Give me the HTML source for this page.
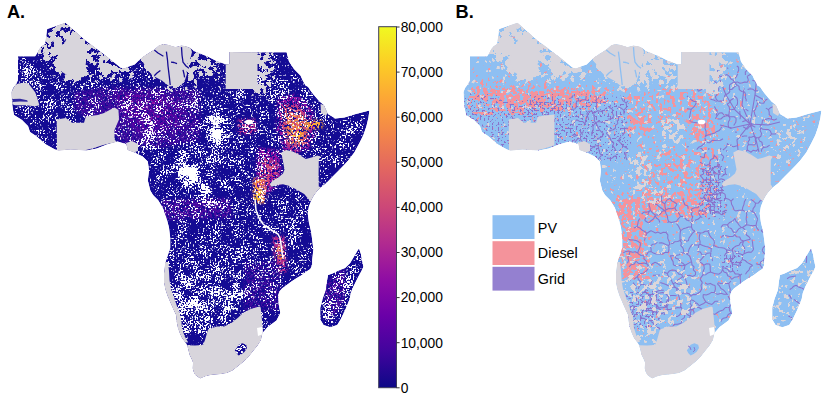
<!DOCTYPE html>
<html><head><meta charset="utf-8"><style>
html,body{margin:0;padding:0;background:#fff}
body{width:829px;height:397px;overflow:hidden;font-family:"Liberation Sans",sans-serif}
svg{display:block}
</style></head><body>
<svg width="829" height="397" viewBox="0 0 829 397">
<defs>
<linearGradient id="plasma" x1="0" y1="1" x2="0" y2="0">
<stop offset="0" stop-color="#0d0887"/><stop offset="0.1" stop-color="#41049d"/><stop offset="0.2" stop-color="#6a00a8"/>
<stop offset="0.3" stop-color="#8f0da4"/><stop offset="0.4" stop-color="#b12a90"/><stop offset="0.5" stop-color="#cc4778"/>
<stop offset="0.6" stop-color="#e16462"/><stop offset="0.7" stop-color="#f2844b"/><stop offset="0.8" stop-color="#fca636"/>
<stop offset="0.9" stop-color="#fcce25"/><stop offset="1" stop-color="#f0f921"/>
</linearGradient>

<clipPath id="land"><path d="M18,56.3 L35.1,56.3 L37.1,53.3 L39.1,49.2 L41.6,46.2 L44.7,44.2 L45.7,40.2 L46.7,32.1 L47.2,29 L65.5,22.7 L85,40 L105,55 L120.5,67.5 L124,68.6 L130,66 L134.6,64.5 L139.2,60 L143.7,56.2 L148.3,53.2 L154.3,49.4 L158.8,45.6 L163.4,44 L168,44.8 L172.5,46.3 L175.5,47.1 L178.5,46.3 L181.5,45.6 L186,46.3 L190.6,47.9 L193.9,51 L207.7,56.6 L216,60.8 L225.7,64.2 L229.2,64 L229.2,52 L286.6,52.3 L289,61.6 L294,69 L300.5,75.5 L302.5,80 L305.5,85.5 L308,86.8 L310.5,90.6 L312.7,93.6 L319.5,101.5 L324,105 L328,114 L335.4,118.5 L344.4,117.4 L355.8,114 L369.4,110.6 L368.4,118.1 L366.4,126.2 L363.3,135.3 L359.3,143.3 L354.3,152.4 L348.2,160.5 L345,164 L338.2,171.1 L332.2,177.1 L326.2,183.2 L321.1,187.2 L317.1,191.2 L314.1,195.3 L311.5,200 L308.9,206.4 L307.7,213.2 L308.9,222.3 L311.1,231.4 L312.3,240.5 L313.4,249.5 L312.2,260 L312.2,265 L310.3,268.9 L306.5,271.4 L301.5,275.2 L296.4,278.3 L291.4,281.4 L286.4,285.2 L282,288.4 L279.4,291.5 L278.2,295.3 L278.2,300.3 L278.8,305 L280.3,313 L276.5,320.6 L267.7,327 L262.5,333 L261,340 L257.5,345.7 L253,351.3 L248.5,357 L243.9,361.5 L238.3,366 L232.6,370.6 L227,372.9 L221.3,374 L216.7,374.6 L211,375.1 L205.4,376.3 L200.3,378.5 L198.6,377.4 L195.2,375.1 L193.5,371.7 L192.6,368.3 L193,362.7 L191.5,359 L189.5,355 L188.1,349.3 L187.1,345.2 L185.1,342.2 L182,338.2 L179.6,333 L177.6,327 L176.5,321 L176,315 L174.4,311.7 L170.5,303 L167.5,296 L165.5,290 L164,283 L164,273 L165.2,263 L167.7,255.4 L170.2,247.9 L170.2,237.8 L169,227.7 L166.4,217.6 L162.7,207.6 L158,200 L153,195 L150.3,190.5 L147.8,180.5 L149,170.4 L147.8,161.6 L142.7,156.5 L135,152.7 L127.6,150 L126.4,144 L117.5,141.4 L106.9,144.5 L96.8,148.5 L86.7,150.6 L70.6,149.5 L58.5,150.6 L55,149.5 L46,144.5 L36,136 L30,132 L28,126 L22,120 L14,115 L13,110 L12,103 L11.5,92 L13,88 L16,84 L18,80 Z M359,248.4 L360.9,254 L362.1,260.4 L363.4,266.7 L361.5,271 L358.3,276.7 L355.8,281.8 L353.3,286.8 L350.8,293.1 L349.7,299 L345.1,310.3 L340.6,319.4 L337.2,325 L330.4,327.3 L323.6,325 L320.2,319.4 L320.2,308 L322.5,299 L325.9,289.9 L327,280.8 L328.1,275 L332.5,273.6 L337.6,271 L345.1,268 L350.2,262.9 L354,256.6 L357.7,250.3 Z"/></clipPath>
<filter id="fW" filterUnits="userSpaceOnUse" x="0" y="0" width="400" height="397" color-interpolation-filters="sRGB">
<feGaussianBlur in="SourceGraphic" stdDeviation="3" result="d"/>
<feTurbulence type="fractalNoise" baseFrequency="0.09" numOctaves="2" seed="31" result="cn"/>
<feColorMatrix in="cn" type="matrix" values="1 0 0 0 0  1 0 0 0 0  1 0 0 0 0  0 0 0 0 1" result="cnr"/>
<feComposite in="d" in2="cnr" operator="arithmetic" k1="3.200" k2="-0.600" k3="0" k4="0" result="dc"/>
<feTurbulence type="fractalNoise" baseFrequency="0.6" numOctaves="1" seed="2" result="n"/>
<feColorMatrix in="n" type="matrix" values="1 0 0 0 0  1 0 0 0 0  1 0 0 0 0  0 0 0 0 1" result="nr"/>
<feComponentTransfer in="nr" result="nu"><feFuncR type="table" tableValues="0.1667 0.1667 0.1667 0.1673 0.1710 0.1815 0.2104 0.2623 0.3441 0.4468 0.5747 0.7211 0.8300 0.9034 0.9557 0.9850 0.9964 0.9994 0.9999 1.0000 1.0000"/></feComponentTransfer>
<feComposite in="dc" in2="nu" operator="arithmetic" k1="0" k2="1" k3="-1" k4="1" result="r"/>
<feColorMatrix in="r" type="matrix" values="0 0 0 0 1.000  0 0 0 0 1.000  0 0 0 0 1.000  6 0 0 0 -5"/>

</filter>
<filter id="fG" filterUnits="userSpaceOnUse" x="0" y="0" width="400" height="397" color-interpolation-filters="sRGB">
<feGaussianBlur in="SourceGraphic" stdDeviation="3" result="d"/>
<feTurbulence type="fractalNoise" baseFrequency="0.06" numOctaves="2" seed="31" result="cn"/>
<feColorMatrix in="cn" type="matrix" values="1 0 0 0 0  1 0 0 0 0  1 0 0 0 0  0 0 0 0 1" result="cnr"/>
<feComposite in="d" in2="cnr" operator="arithmetic" k1="1.600" k2="0.200" k3="0" k4="0" result="dc"/>
<feTurbulence type="fractalNoise" baseFrequency="0.18" numOctaves="3" seed="7" result="n"/>
<feColorMatrix in="n" type="matrix" values="1 0 0 0 0  1 0 0 0 0  1 0 0 0 0  0 0 0 0 1" result="nr"/>
<feComponentTransfer in="nr" result="nu"><feFuncR type="table" tableValues="0.0400 0.0400 0.0401 0.0408 0.0450 0.0571 0.0904 0.1502 0.2444 0.3628 0.5100 0.6787 0.8042 0.8887 0.9490 0.9827 0.9959 0.9993 0.9999 1.0000 1.0000"/></feComponentTransfer>
<feComposite in="dc" in2="nu" operator="arithmetic" k1="0" k2="1" k3="-1" k4="1" result="r"/>
<feColorMatrix in="r" type="matrix" values="0 0 0 0 0.847  0 0 0 0 0.835  0 0 0 0 0.863  25 0 0 0 -24"/>

</filter>
<filter id="fGB" filterUnits="userSpaceOnUse" x="0" y="0" width="400" height="397" color-interpolation-filters="sRGB">
<feGaussianBlur in="SourceGraphic" stdDeviation="3" result="d"/>

<feTurbulence type="fractalNoise" baseFrequency="0.2" numOctaves="3" seed="2" result="n"/>
<feColorMatrix in="n" type="matrix" values="1 0 0 0 0  1 0 0 0 0  1 0 0 0 0  0 0 0 0 1" result="nr"/>
<feComponentTransfer in="nr" result="nu"><feFuncR type="table" tableValues="0.0400 0.0400 0.0401 0.0408 0.0450 0.0571 0.0904 0.1502 0.2444 0.3628 0.5100 0.6787 0.8042 0.8887 0.9490 0.9827 0.9959 0.9993 0.9999 1.0000 1.0000"/></feComponentTransfer>
<feComposite in="d" in2="nu" operator="arithmetic" k1="0" k2="1" k3="-1" k4="1" result="r"/>
<feColorMatrix in="r" type="matrix" values="0 0 0 0 0.863  0 0 0 0 0.839  0 0 0 0 0.855  25 0 0 0 -24"/>

</filter>
<filter id="fP" filterUnits="userSpaceOnUse" x="0" y="0" width="400" height="397" color-interpolation-filters="sRGB">
<feGaussianBlur in="SourceGraphic" stdDeviation="3" result="d"/>

<feTurbulence type="fractalNoise" baseFrequency="0.25" numOctaves="3" seed="13" result="n"/>
<feColorMatrix in="n" type="matrix" values="1 0 0 0 0  1 0 0 0 0  1 0 0 0 0  0 0 0 0 1" result="nr"/>
<feComponentTransfer in="nr" result="nu"><feFuncR type="table" tableValues="0.0400 0.0400 0.0401 0.0408 0.0450 0.0571 0.0904 0.1502 0.2444 0.3628 0.5100 0.6787 0.8042 0.8887 0.9490 0.9827 0.9959 0.9993 0.9999 1.0000 1.0000"/></feComponentTransfer>
<feComposite in="d" in2="nu" operator="arithmetic" k1="0" k2="1" k3="-1" k4="1" result="r"/>
<feColorMatrix in="r" type="matrix" values="0 0 0 0 0.957  0 0 0 0 0.576  0 0 0 0 0.608  25 0 0 0 -24"/>

</filter>
<filter id="fU" filterUnits="userSpaceOnUse" x="0" y="0" width="400" height="397" color-interpolation-filters="sRGB">
<feGaussianBlur in="SourceGraphic" stdDeviation="3" result="d"/>

<feTurbulence type="fractalNoise" baseFrequency="0.5" numOctaves="3" seed="17" result="n"/>
<feColorMatrix in="n" type="matrix" values="1 0 0 0 0  1 0 0 0 0  1 0 0 0 0  0 0 0 0 1" result="nr"/>
<feComponentTransfer in="nr" result="nu"><feFuncR type="table" tableValues="0.0400 0.0400 0.0401 0.0408 0.0450 0.0571 0.0904 0.1502 0.2444 0.3628 0.5100 0.6787 0.8042 0.8887 0.9490 0.9827 0.9959 0.9993 0.9999 1.0000 1.0000"/></feComponentTransfer>
<feComposite in="d" in2="nu" operator="arithmetic" k1="0" k2="1" k3="-1" k4="1" result="r"/>
<feColorMatrix in="r" type="matrix" values="0 0 0 0 0.541  0 0 0 0 0.447  0 0 0 0 0.800  25 0 0 0 -24"/>

</filter>
<filter id="fV" filterUnits="userSpaceOnUse" x="0" y="0" width="400" height="397" color-interpolation-filters="sRGB">
<feGaussianBlur in="SourceGraphic" stdDeviation="4" result="m"/>
<feTurbulence type="turbulence" baseFrequency="0.038" numOctaves="1" seed="3" result="n"/>
<feColorMatrix in="n" type="matrix" values="0 0 0 0 0.55  0 0 0 0 0.45  0 0 0 0 0.8  -90 0 0 0 1.6" result="v"/>
<feComposite in="v" in2="m" operator="in"/>
</filter>
<filter id="hot12" filterUnits="userSpaceOnUse" x="0" y="0" width="400" height="397" color-interpolation-filters="sRGB">
<feGaussianBlur in="SourceGraphic" stdDeviation="1.5" result="b"/>
<feTurbulence type="fractalNoise" baseFrequency="0.4" numOctaves="2" seed="21" result="n"/>
<feColorMatrix in="n" type="matrix" values="1 0 0 0 0  1 0 0 0 0  1 0 0 0 0  0 0 0 0 1" result="nr"/>
<feComponentTransfer in="nr" result="nu"><feFuncR type="table" tableValues="0.0000 0.0000 0.0001 0.0008 0.0052 0.0178 0.0525 0.1148 0.2129 0.3362 0.4896 0.6653 0.7960 0.8841 0.9469 0.9820 0.9957 0.9993 0.9999 1.0000 1.0000"/></feComponentTransfer>
<feColorMatrix in="nu" type="matrix" values="0 0 0 0 0  0 0 0 0 0  0 0 0 0 0  -25 0 0 0 3.50" result="m"/>
<feComposite in="b" in2="m" operator="in"/>
</filter>
<filter id="hot25" filterUnits="userSpaceOnUse" x="0" y="0" width="400" height="397" color-interpolation-filters="sRGB">
<feGaussianBlur in="SourceGraphic" stdDeviation="1.5" result="b"/>
<feTurbulence type="fractalNoise" baseFrequency="0.4" numOctaves="2" seed="22" result="n"/>
<feColorMatrix in="n" type="matrix" values="1 0 0 0 0  1 0 0 0 0  1 0 0 0 0  0 0 0 0 1" result="nr"/>
<feComponentTransfer in="nr" result="nu"><feFuncR type="table" tableValues="0.0000 0.0000 0.0001 0.0008 0.0052 0.0178 0.0525 0.1148 0.2129 0.3362 0.4896 0.6653 0.7960 0.8841 0.9469 0.9820 0.9957 0.9993 0.9999 1.0000 1.0000"/></feComponentTransfer>
<feColorMatrix in="nu" type="matrix" values="0 0 0 0 0  0 0 0 0 0  0 0 0 0 0  -25 0 0 0 6.75" result="m"/>
<feComposite in="b" in2="m" operator="in"/>
</filter>
<filter id="hot30" filterUnits="userSpaceOnUse" x="0" y="0" width="400" height="397" color-interpolation-filters="sRGB">
<feGaussianBlur in="SourceGraphic" stdDeviation="1.5" result="b"/>
<feTurbulence type="fractalNoise" baseFrequency="0.4" numOctaves="2" seed="23" result="n"/>
<feColorMatrix in="n" type="matrix" values="1 0 0 0 0  1 0 0 0 0  1 0 0 0 0  0 0 0 0 1" result="nr"/>
<feComponentTransfer in="nr" result="nu"><feFuncR type="table" tableValues="0.0000 0.0000 0.0001 0.0008 0.0052 0.0178 0.0525 0.1148 0.2129 0.3362 0.4896 0.6653 0.7960 0.8841 0.9469 0.9820 0.9957 0.9993 0.9999 1.0000 1.0000"/></feComponentTransfer>
<feColorMatrix in="nu" type="matrix" values="0 0 0 0 0  0 0 0 0 0  0 0 0 0 0  -25 0 0 0 8.00" result="m"/>
<feComposite in="b" in2="m" operator="in"/>
</filter>
<filter id="hot35" filterUnits="userSpaceOnUse" x="0" y="0" width="400" height="397" color-interpolation-filters="sRGB">
<feGaussianBlur in="SourceGraphic" stdDeviation="1.5" result="b"/>
<feTurbulence type="fractalNoise" baseFrequency="0.4" numOctaves="2" seed="24" result="n"/>
<feColorMatrix in="n" type="matrix" values="1 0 0 0 0  1 0 0 0 0  1 0 0 0 0  0 0 0 0 1" result="nr"/>
<feComponentTransfer in="nr" result="nu"><feFuncR type="table" tableValues="0.0000 0.0000 0.0001 0.0008 0.0052 0.0178 0.0525 0.1148 0.2129 0.3362 0.4896 0.6653 0.7960 0.8841 0.9469 0.9820 0.9957 0.9993 0.9999 1.0000 1.0000"/></feComponentTransfer>
<feColorMatrix in="nu" type="matrix" values="0 0 0 0 0  0 0 0 0 0  0 0 0 0 0  -25 0 0 0 9.25" result="m"/>
<feComposite in="b" in2="m" operator="in"/>
</filter>
<filter id="hot40" filterUnits="userSpaceOnUse" x="0" y="0" width="400" height="397" color-interpolation-filters="sRGB">
<feGaussianBlur in="SourceGraphic" stdDeviation="1.5" result="b"/>
<feTurbulence type="fractalNoise" baseFrequency="0.4" numOctaves="2" seed="25" result="n"/>
<feColorMatrix in="n" type="matrix" values="1 0 0 0 0  1 0 0 0 0  1 0 0 0 0  0 0 0 0 1" result="nr"/>
<feComponentTransfer in="nr" result="nu"><feFuncR type="table" tableValues="0.0000 0.0000 0.0001 0.0008 0.0052 0.0178 0.0525 0.1148 0.2129 0.3362 0.4896 0.6653 0.7960 0.8841 0.9469 0.9820 0.9957 0.9993 0.9999 1.0000 1.0000"/></feComponentTransfer>
<feColorMatrix in="nu" type="matrix" values="0 0 0 0 0  0 0 0 0 0  0 0 0 0 0  -25 0 0 0 10.50" result="m"/>
<feComposite in="b" in2="m" operator="in"/>
</filter>
<filter id="hot45" filterUnits="userSpaceOnUse" x="0" y="0" width="400" height="397" color-interpolation-filters="sRGB">
<feGaussianBlur in="SourceGraphic" stdDeviation="1.5" result="b"/>
<feTurbulence type="fractalNoise" baseFrequency="0.4" numOctaves="2" seed="26" result="n"/>
<feColorMatrix in="n" type="matrix" values="1 0 0 0 0  1 0 0 0 0  1 0 0 0 0  0 0 0 0 1" result="nr"/>
<feComponentTransfer in="nr" result="nu"><feFuncR type="table" tableValues="0.0000 0.0000 0.0001 0.0008 0.0052 0.0178 0.0525 0.1148 0.2129 0.3362 0.4896 0.6653 0.7960 0.8841 0.9469 0.9820 0.9957 0.9993 0.9999 1.0000 1.0000"/></feComponentTransfer>
<feColorMatrix in="nu" type="matrix" values="0 0 0 0 0  0 0 0 0 0  0 0 0 0 0  -25 0 0 0 11.75" result="m"/>
<feComposite in="b" in2="m" operator="in"/>
</filter>
<filter id="hot50" filterUnits="userSpaceOnUse" x="0" y="0" width="400" height="397" color-interpolation-filters="sRGB">
<feGaussianBlur in="SourceGraphic" stdDeviation="1.5" result="b"/>
<feTurbulence type="fractalNoise" baseFrequency="0.4" numOctaves="2" seed="27" result="n"/>
<feColorMatrix in="n" type="matrix" values="1 0 0 0 0  1 0 0 0 0  1 0 0 0 0  0 0 0 0 1" result="nr"/>
<feComponentTransfer in="nr" result="nu"><feFuncR type="table" tableValues="0.0000 0.0000 0.0001 0.0008 0.0052 0.0178 0.0525 0.1148 0.2129 0.3362 0.4896 0.6653 0.7960 0.8841 0.9469 0.9820 0.9957 0.9993 0.9999 1.0000 1.0000"/></feComponentTransfer>
<feColorMatrix in="nu" type="matrix" values="0 0 0 0 0  0 0 0 0 0  0 0 0 0 0  -25 0 0 0 13.00" result="m"/>
<feComposite in="b" in2="m" operator="in"/>
</filter>
<filter id="hot55" filterUnits="userSpaceOnUse" x="0" y="0" width="400" height="397" color-interpolation-filters="sRGB">
<feGaussianBlur in="SourceGraphic" stdDeviation="1.5" result="b"/>
<feTurbulence type="fractalNoise" baseFrequency="0.4" numOctaves="2" seed="28" result="n"/>
<feColorMatrix in="n" type="matrix" values="1 0 0 0 0  1 0 0 0 0  1 0 0 0 0  0 0 0 0 1" result="nr"/>
<feComponentTransfer in="nr" result="nu"><feFuncR type="table" tableValues="0.0000 0.0000 0.0001 0.0008 0.0052 0.0178 0.0525 0.1148 0.2129 0.3362 0.4896 0.6653 0.7960 0.8841 0.9469 0.9820 0.9957 0.9993 0.9999 1.0000 1.0000"/></feComponentTransfer>
<feColorMatrix in="nu" type="matrix" values="0 0 0 0 0  0 0 0 0 0  0 0 0 0 0  -25 0 0 0 14.25" result="m"/>
<feComposite in="b" in2="m" operator="in"/>
</filter>
<filter id="hot60" filterUnits="userSpaceOnUse" x="0" y="0" width="400" height="397" color-interpolation-filters="sRGB">
<feGaussianBlur in="SourceGraphic" stdDeviation="1.5" result="b"/>
<feTurbulence type="fractalNoise" baseFrequency="0.4" numOctaves="2" seed="29" result="n"/>
<feColorMatrix in="n" type="matrix" values="1 0 0 0 0  1 0 0 0 0  1 0 0 0 0  0 0 0 0 1" result="nr"/>
<feComponentTransfer in="nr" result="nu"><feFuncR type="table" tableValues="0.0000 0.0000 0.0001 0.0008 0.0052 0.0178 0.0525 0.1148 0.2129 0.3362 0.4896 0.6653 0.7960 0.8841 0.9469 0.9820 0.9957 0.9993 0.9999 1.0000 1.0000"/></feComponentTransfer>
<feColorMatrix in="nu" type="matrix" values="0 0 0 0 0  0 0 0 0 0  0 0 0 0 0  -25 0 0 0 15.50" result="m"/>
<feComposite in="b" in2="m" operator="in"/>
</filter>
<filter id="hot70" filterUnits="userSpaceOnUse" x="0" y="0" width="400" height="397" color-interpolation-filters="sRGB">
<feGaussianBlur in="SourceGraphic" stdDeviation="1.5" result="b"/>
<feTurbulence type="fractalNoise" baseFrequency="0.4" numOctaves="2" seed="30" result="n"/>
<feColorMatrix in="n" type="matrix" values="1 0 0 0 0  1 0 0 0 0  1 0 0 0 0  0 0 0 0 1" result="nr"/>
<feComponentTransfer in="nr" result="nu"><feFuncR type="table" tableValues="0.0000 0.0000 0.0001 0.0008 0.0052 0.0178 0.0525 0.1148 0.2129 0.3362 0.4896 0.6653 0.7960 0.8841 0.9469 0.9820 0.9957 0.9993 0.9999 1.0000 1.0000"/></feComponentTransfer>
<feColorMatrix in="nu" type="matrix" values="0 0 0 0 0  0 0 0 0 0  0 0 0 0 0  -25 0 0 0 18.00" result="m"/>
<feComposite in="b" in2="m" operator="in"/>
</filter>
<filter id="hot75" filterUnits="userSpaceOnUse" x="0" y="0" width="400" height="397" color-interpolation-filters="sRGB">
<feGaussianBlur in="SourceGraphic" stdDeviation="1.5" result="b"/>
<feTurbulence type="fractalNoise" baseFrequency="0.4" numOctaves="2" seed="31" result="n"/>
<feColorMatrix in="n" type="matrix" values="1 0 0 0 0  1 0 0 0 0  1 0 0 0 0  0 0 0 0 1" result="nr"/>
<feComponentTransfer in="nr" result="nu"><feFuncR type="table" tableValues="0.0000 0.0000 0.0001 0.0008 0.0052 0.0178 0.0525 0.1148 0.2129 0.3362 0.4896 0.6653 0.7960 0.8841 0.9469 0.9820 0.9957 0.9993 0.9999 1.0000 1.0000"/></feComponentTransfer>
<feColorMatrix in="nu" type="matrix" values="0 0 0 0 0  0 0 0 0 0  0 0 0 0 0  -25 0 0 0 19.25" result="m"/>
<feComposite in="b" in2="m" operator="in"/>
</filter>
<g id="dW"><rect x="-20" y="0" width="440" height="397" fill="#000"/>
<path d="M18,56.3 L35.1,56.3 L37.1,53.3 L39.1,49.2 L41.6,46.2 L44.7,44.2 L45.7,40.2 L46.7,32.1 L47.2,29 L65.5,22.7 L85,40 L105,55 L120.5,67.5 L124,68.6 L130,66 L134.6,64.5 L139.2,60 L143.7,56.2 L148.3,53.2 L154.3,49.4 L158.8,45.6 L163.4,44 L168,44.8 L172.5,46.3 L175.5,47.1 L178.5,46.3 L181.5,45.6 L186,46.3 L190.6,47.9 L193.9,51 L207.7,56.6 L216,60.8 L225.7,64.2 L229.2,64 L229.2,52 L286.6,52.3 L289,61.6 L294,69 L300.5,75.5 L302.5,80 L305.5,85.5 L308,86.8 L310.5,90.6 L312.7,93.6 L319.5,101.5 L324,105 L328,114 L335.4,118.5 L344.4,117.4 L355.8,114 L369.4,110.6 L368.4,118.1 L366.4,126.2 L363.3,135.3 L359.3,143.3 L354.3,152.4 L348.2,160.5 L345,164 L338.2,171.1 L332.2,177.1 L326.2,183.2 L321.1,187.2 L317.1,191.2 L314.1,195.3 L311.5,200 L308.9,206.4 L307.7,213.2 L308.9,222.3 L311.1,231.4 L312.3,240.5 L313.4,249.5 L312.2,260 L312.2,265 L310.3,268.9 L306.5,271.4 L301.5,275.2 L296.4,278.3 L291.4,281.4 L286.4,285.2 L282,288.4 L279.4,291.5 L278.2,295.3 L278.2,300.3 L278.8,305 L280.3,313 L276.5,320.6 L267.7,327 L262.5,333 L261,340 L257.5,345.7 L253,351.3 L248.5,357 L243.9,361.5 L238.3,366 L232.6,370.6 L227,372.9 L221.3,374 L216.7,374.6 L211,375.1 L205.4,376.3 L200.3,378.5 L198.6,377.4 L195.2,375.1 L193.5,371.7 L192.6,368.3 L193,362.7 L191.5,359 L189.5,355 L188.1,349.3 L187.1,345.2 L185.1,342.2 L182,338.2 L179.6,333 L177.6,327 L176.5,321 L176,315 L174.4,311.7 L170.5,303 L167.5,296 L165.5,290 L164,283 L164,273 L165.2,263 L167.7,255.4 L170.2,247.9 L170.2,237.8 L169,227.7 L166.4,217.6 L162.7,207.6 L158,200 L153,195 L150.3,190.5 L147.8,180.5 L149,170.4 L147.8,161.6 L142.7,156.5 L135,152.7 L127.6,150 L126.4,144 L117.5,141.4 L106.9,144.5 L96.8,148.5 L86.7,150.6 L70.6,149.5 L58.5,150.6 L55,149.5 L46,144.5 L36,136 L30,132 L28,126 L22,120 L14,115 L13,110 L12,103 L11.5,92 L13,88 L16,84 L18,80 Z" fill="rgb(60,60,60)"/>
<path d="M33,57 L40,50 L43,45 L46,35 L47,29 L65.5,23 L85,40 L105,55 L120.5,67.5 L124,68.6 L131,67 L133,73 L125,78 L110,76 L96,78 L84,76 L70,75 L55,73 L40,70 L33,66 Z" fill="rgb(34,34,34)"/>
<path d="M139,60 L148.3,53.2 L154.3,49.4 L158.8,45.6 L163.4,44 L175.5,47 L186,46.3 L190.6,47.9 L198,51.6 L200,77 L190.6,80.4 L181.5,85 L169.4,86.4 L161.9,80.4 L152.8,75.8 L145,68 Z" fill="rgb(34,34,34)"/>
<path d="M186,46 L193.9,51 L207.7,56.6 L216,60.8 L225.7,64.2 L225.7,88 L188,88 L186,80 Z" fill="rgb(34,34,34)"/>
<path d="M359,248.4 L360.9,254 L362.1,260.4 L363.4,266.7 L361.5,271 L358.3,276.7 L355.8,281.8 L353.3,286.8 L350.8,293.1 L349.7,299 L345.1,310.3 L340.6,319.4 L337.2,325 L330.4,327.3 L323.6,325 L320.2,319.4 L320.2,308 L322.5,299 L325.9,289.9 L327,280.8 L328.1,275 L332.5,273.6 L337.6,271 L345.1,268 L350.2,262.9 L354,256.6 L357.7,250.3 Z" fill="rgb(83,83,83)"/>
<path d="M17,68 L40,69 L42,74 L17,74 Z" fill="rgb(139,139,139)"/>
<path d="M257,52.5 L270,52.5 L272,110 L260,100 Z" fill="rgb(58,58,58)"/>
<path d="M270,52.5 L286.6,52.3 L289,61.6 L294,69 L290,95 L270,95 Z" fill="rgb(54,54,54)"/>
<path d="M266,80 L286,88 L284,118 L272,120 L266,100 Z" fill="rgb(69,69,69)"/>
<path d="M140,107 L156,110 L160,135 L150,153 L142,150 Z" fill="rgb(99,99,99)"/>
<path d="M205,114 L222,112 L230,122 L228,148 L212,148 L206,130 Z" fill="rgb(129,129,129)"/>
<path d="M212,118 L222,116 L226,126 L224,144 L214,142 Z" fill="rgb(176,176,176)"/>
<path d="M176,155 L192,152 L200,165 L199,189 L186,190 L176,175 Z" fill="rgb(129,129,129)"/>
<path d="M180,160 L191,157 L197,168 L196,186 L186,187 L181,174 Z" fill="rgb(169,169,169)"/>
<path d="M194,185 L206,184 L214,192 L212,204 L198,203 Z" fill="rgb(129,129,129)"/>
<path d="M200,140 L215,145 L218,175 L205,180 Z" fill="rgb(89,89,89)"/>
<path d="M165,250 L250,245 L260,262 L250,280 L165,280 Z" fill="rgb(71,71,71)"/>
<path d="M172,274 L238,276 L246,292 L240,312 L222,326 L200,340 L182,340 L172,300 Z" fill="rgb(105,105,105)"/>
<path d="M322,112 L372,108 L345,165 L320,187 L318,150 Z" fill="rgb(52,52,52)"/>
<path d="M336,127 L352,130 L350,148 L337,149 Z" fill="rgb(109,109,109)"/>
<path d="M270,320 L280,313 L279,303 L262,300 L250,310 L262,332 Z" fill="rgb(62,62,62)"/>
<path d="M290,205 L308,205 L310,240 L290,240 Z" fill="rgb(83,83,83)"/>
</g>
<g id="dG"><rect x="-20" y="0" width="440" height="397" fill="#000"/>
<path d="M38,52 L40,50 L43,45 L46,35 L47,29 L65.5,23 L85,40 L105,55 L120.5,67.5 L124,68.6 L131,67 L133,73 L125,78 L110,78 L96,79 L84,79 L70,79 L60,76 L50,66 L42,60 Z" fill="rgb(173,173,173)"/>
<path d="M54,45 L66,28 L86,42 L86,62 L85,79 L70,79 L60,72 L56,58 Z" fill="rgb(247,247,247)"/>
<path d="M84,63 L96,63 L98,72 L95,78 L86,78 Z" fill="rgb(31,31,31)"/>
<path d="M139,60 L148.3,53.2 L154.3,49.4 L158.8,45.6 L163.4,44 L175.5,47 L186,46.3 L190.6,47.9 L198,51.6 L200,77 L190.6,80.4 L181.5,85 L169.4,86.4 L161.9,80.4 L152.8,75.8 L145,68 Z" fill="rgb(255,255,255)"/>
<path d="M186,46 L193.9,51 L207.7,56.6 L216,60.8 L225.7,64.2 L225.7,88 L188,88 L186,80 Z" fill="rgb(153,153,153)"/>
<path d="M216,61 L225.7,64.2 L225.7,87 L216,87 Z" fill="rgb(0,0,0)"/>
<path d="M256,52 L274,52 L272,70 L265,94 L256,94 Z" fill="rgb(191,191,191)"/>
<path d="M193,76 L205,72 L211,79 L216,84 L216,88 L193,88 Z" fill="rgb(8,8,8)"/>
<polyline points="166.7,50 166,62 167,72 167.5,88" fill="none" stroke="#000" stroke-width="1.6"/><polyline points="152,80 158,74 163,70" fill="none" stroke="#000" stroke-width="1.6"/><polyline points="181,47 182,58 183,70 185,84" fill="none" stroke="#000" stroke-width="1.6"/><polyline points="171,62 175,60 179,62" fill="none" stroke="#000" stroke-width="1.6"/><polyline points="154,50 160,56 165,58" fill="none" stroke="#000" stroke-width="1.6"/><polyline points="186,55 190,62 196,64" fill="none" stroke="#000" stroke-width="1.6"/></g>
<g id="dGB"><rect x="-20" y="0" width="440" height="397" fill="#000"/>
<path d="M38,52 L40,50 L43,45 L46,35 L47,29 L65.5,23 L85,40 L105,55 L120.5,67.5 L124,68.6 L131,67 L133,73 L125,78 L110,78 L96,79 L84,79 L70,79 L60,76 L50,66 L42,60 Z" fill="rgb(225,225,225)"/>
<path d="M54,45 L66,28 L86,42 L86,62 L85,79 L70,79 L60,72 L56,58 Z" fill="rgb(252,252,252)"/>
<path d="M84,63 L96,63 L98,72 L95,78 L86,78 Z" fill="rgb(31,31,31)"/>
<path d="M139,60 L148.3,53.2 L154.3,49.4 L158.8,45.6 L163.4,44 L175.5,47 L186,46.3 L190.6,47.9 L198,51.6 L200,77 L190.6,80.4 L181.5,85 L169.4,86.4 L161.9,80.4 L152.8,75.8 L145,68 Z" fill="rgb(252,252,252)"/>
<path d="M186,46 L193.9,51 L207.7,56.6 L216,60.8 L225.7,64.2 L225.7,88 L188,88 L186,80 Z" fill="rgb(199,199,199)"/>
<path d="M216,61 L225.7,64.2 L225.7,87 L216,87 Z" fill="rgb(0,0,0)"/>
<path d="M256,52 L274,52 L272,70 L265,94 L256,94 Z" fill="rgb(249,249,249)"/>
<path d="M193,76 L205,72 L211,79 L216,84 L216,88 L193,88 Z" fill="rgb(8,8,8)"/>
<polyline points="166.7,50 166,62 167,72 167.5,88" fill="none" stroke="#000" stroke-width="1.6"/><polyline points="152,80 158,74 163,70" fill="none" stroke="#000" stroke-width="1.6"/><polyline points="181,47 182,58 183,70 185,84" fill="none" stroke="#000" stroke-width="1.6"/><polyline points="171,62 175,60 179,62" fill="none" stroke="#000" stroke-width="1.6"/><polyline points="154,50 160,56 165,58" fill="none" stroke="#000" stroke-width="1.6"/><polyline points="186,55 190,62 196,64" fill="none" stroke="#000" stroke-width="1.6"/></g>
<g id="dWB"><rect x="-20" y="0" width="440" height="397" fill="#000"/>
<path d="M18,56.3 L35.1,56.3 L37.1,53.3 L39.1,49.2 L41.6,46.2 L44.7,44.2 L45.7,40.2 L46.7,32.1 L47.2,29 L65.5,22.7 L85,40 L105,55 L120.5,67.5 L124,68.6 L130,66 L134.6,64.5 L139.2,60 L143.7,56.2 L148.3,53.2 L154.3,49.4 L158.8,45.6 L163.4,44 L168,44.8 L172.5,46.3 L175.5,47.1 L178.5,46.3 L181.5,45.6 L186,46.3 L190.6,47.9 L193.9,51 L207.7,56.6 L216,60.8 L225.7,64.2 L229.2,64 L229.2,52 L286.6,52.3 L289,61.6 L294,69 L300.5,75.5 L302.5,80 L305.5,85.5 L308,86.8 L310.5,90.6 L312.7,93.6 L319.5,101.5 L324,105 L328,114 L335.4,118.5 L344.4,117.4 L355.8,114 L369.4,110.6 L368.4,118.1 L366.4,126.2 L363.3,135.3 L359.3,143.3 L354.3,152.4 L348.2,160.5 L345,164 L338.2,171.1 L332.2,177.1 L326.2,183.2 L321.1,187.2 L317.1,191.2 L314.1,195.3 L311.5,200 L308.9,206.4 L307.7,213.2 L308.9,222.3 L311.1,231.4 L312.3,240.5 L313.4,249.5 L312.2,260 L312.2,265 L310.3,268.9 L306.5,271.4 L301.5,275.2 L296.4,278.3 L291.4,281.4 L286.4,285.2 L282,288.4 L279.4,291.5 L278.2,295.3 L278.2,300.3 L278.8,305 L280.3,313 L276.5,320.6 L267.7,327 L262.5,333 L261,340 L257.5,345.7 L253,351.3 L248.5,357 L243.9,361.5 L238.3,366 L232.6,370.6 L227,372.9 L221.3,374 L216.7,374.6 L211,375.1 L205.4,376.3 L200.3,378.5 L198.6,377.4 L195.2,375.1 L193.5,371.7 L192.6,368.3 L193,362.7 L191.5,359 L189.5,355 L188.1,349.3 L187.1,345.2 L185.1,342.2 L182,338.2 L179.6,333 L177.6,327 L176.5,321 L176,315 L174.4,311.7 L170.5,303 L167.5,296 L165.5,290 L164,283 L164,273 L165.2,263 L167.7,255.4 L170.2,247.9 L170.2,237.8 L169,227.7 L166.4,217.6 L162.7,207.6 L158,200 L153,195 L150.3,190.5 L147.8,180.5 L149,170.4 L147.8,161.6 L142.7,156.5 L135,152.7 L127.6,150 L126.4,144 L117.5,141.4 L106.9,144.5 L96.8,148.5 L86.7,150.6 L70.6,149.5 L58.5,150.6 L55,149.5 L46,144.5 L36,136 L30,132 L28,126 L22,120 L14,115 L13,110 L12,103 L11.5,92 L13,88 L16,84 L18,80 Z" fill="rgb(18,18,18)"/>
<path d="M359,248.4 L360.9,254 L362.1,260.4 L363.4,266.7 L361.5,271 L358.3,276.7 L355.8,281.8 L353.3,286.8 L350.8,293.1 L349.7,299 L345.1,310.3 L340.6,319.4 L337.2,325 L330.4,327.3 L323.6,325 L320.2,319.4 L320.2,308 L322.5,299 L325.9,289.9 L327,280.8 L328.1,275 L332.5,273.6 L337.6,271 L345.1,268 L350.2,262.9 L354,256.6 L357.7,250.3 Z" fill="rgb(51,51,51)"/>
<path d="M188,46 L204,55.3 L208,59 L218,62.9 L225.6,65.4 L225,88 L188,88 Z" fill="rgb(89,89,89)"/>
<path d="M257,52.5 L286.6,52.3 L289,61.6 L294,69 L286,88 L257,88 Z" fill="rgb(26,26,26)"/>
<path d="M266,80 L286,88 L285,118 L272,120 L266,100 Z" fill="rgb(20,20,20)"/>
<path d="M209,116 L222,113 L232,125 L230,144 L214,144 Z" fill="rgb(115,115,115)"/>
<path d="M176,155 L192,152 L200,165 L199,189 L186,190 L176,175 Z" fill="rgb(102,102,102)"/>
<path d="M194,185 L206,184 L214,192 L212,204 L198,203 Z" fill="rgb(89,89,89)"/>
<path d="M165,250 L250,245 L260,262 L250,280 L165,280 Z" fill="rgb(31,31,31)"/>
<path d="M172,274 L238,276 L246,292 L240,312 L222,326 L200,340 L182,340 L172,300 Z" fill="rgb(76,76,76)"/>
<path d="M326,125 L352,130 L350,150 L328,152 L322,140 Z" fill="rgb(64,64,64)"/>
<path d="M318,150 L345,150 L338,172 L320,185 Z" fill="rgb(38,38,38)"/>
</g>
<g id="dP"><rect x="-20" y="0" width="440" height="397" fill="#000"/>
<path d="M18,56.3 L35.1,56.3 L37.1,53.3 L39.1,49.2 L41.6,46.2 L44.7,44.2 L45.7,40.2 L46.7,32.1 L47.2,29 L65.5,22.7 L85,40 L105,55 L120.5,67.5 L124,68.6 L130,66 L134.6,64.5 L139.2,60 L143.7,56.2 L148.3,53.2 L154.3,49.4 L158.8,45.6 L163.4,44 L168,44.8 L172.5,46.3 L175.5,47.1 L178.5,46.3 L181.5,45.6 L186,46.3 L190.6,47.9 L193.9,51 L207.7,56.6 L216,60.8 L225.7,64.2 L229.2,64 L229.2,52 L286.6,52.3 L289,61.6 L294,69 L300.5,75.5 L302.5,80 L305.5,85.5 L308,86.8 L310.5,90.6 L312.7,93.6 L319.5,101.5 L324,105 L328,114 L335.4,118.5 L344.4,117.4 L355.8,114 L369.4,110.6 L368.4,118.1 L366.4,126.2 L363.3,135.3 L359.3,143.3 L354.3,152.4 L348.2,160.5 L345,164 L338.2,171.1 L332.2,177.1 L326.2,183.2 L321.1,187.2 L317.1,191.2 L314.1,195.3 L311.5,200 L308.9,206.4 L307.7,213.2 L308.9,222.3 L311.1,231.4 L312.3,240.5 L313.4,249.5 L312.2,260 L312.2,265 L310.3,268.9 L306.5,271.4 L301.5,275.2 L296.4,278.3 L291.4,281.4 L286.4,285.2 L282,288.4 L279.4,291.5 L278.2,295.3 L278.2,300.3 L278.8,305 L280.3,313 L276.5,320.6 L267.7,327 L262.5,333 L261,340 L257.5,345.7 L253,351.3 L248.5,357 L243.9,361.5 L238.3,366 L232.6,370.6 L227,372.9 L221.3,374 L216.7,374.6 L211,375.1 L205.4,376.3 L200.3,378.5 L198.6,377.4 L195.2,375.1 L193.5,371.7 L192.6,368.3 L193,362.7 L191.5,359 L189.5,355 L188.1,349.3 L187.1,345.2 L185.1,342.2 L182,338.2 L179.6,333 L177.6,327 L176.5,321 L176,315 L174.4,311.7 L170.5,303 L167.5,296 L165.5,290 L164,283 L164,273 L165.2,263 L167.7,255.4 L170.2,247.9 L170.2,237.8 L169,227.7 L166.4,217.6 L162.7,207.6 L158,200 L153,195 L150.3,190.5 L147.8,180.5 L149,170.4 L147.8,161.6 L142.7,156.5 L135,152.7 L127.6,150 L126.4,144 L117.5,141.4 L106.9,144.5 L96.8,148.5 L86.7,150.6 L70.6,149.5 L58.5,150.6 L55,149.5 L46,144.5 L36,136 L30,132 L28,126 L22,120 L14,115 L13,110 L12,103 L11.5,92 L13,88 L16,84 L18,80 Z" fill="rgb(14,14,14)"/>
<path d="M18,77 L60,84 L120,86 L160,88 L160,100 L120,112 L60,115 L20,112 Z" fill="rgb(64,64,64)"/>
<path d="M40,88 L80,90 L120,90 L153,90 L153,104 L120,106 L100,110 L80,112 L60,110 L40,105 L18,100 L18,92 Z" fill="rgb(178,178,178)"/>
<path d="M13,100 L45,102 L50,115 L20,118 Z" fill="rgb(76,76,76)"/>
<path d="M173,93 L201,95 L200,133 L175,133 Z" fill="rgb(89,89,89)"/>
<path d="M176,118 L198,118 L198,133 L176,133 Z" fill="rgb(158,158,158)"/>
<path d="M201,90 L262,88 L262,125 L206,125 Z" fill="rgb(76,76,76)"/>
<path d="M238,118 L262,118 L262,140 L240,140 Z" fill="rgb(153,153,153)"/>
<path d="M187,148 L265,148 L262,198 L190,198 Z" fill="rgb(84,84,84)"/>
<path d="M164,196 L255,194 L253,216 L164,220 Z" fill="rgb(158,158,158)"/>
<path d="M164,220 L192,220 L196,280 L168,280 Z" fill="rgb(148,148,148)"/>
</g>
<g id="dU"><rect x="-20" y="0" width="440" height="397" fill="#000"/>
<path d="M18,56.3 L35.1,56.3 L37.1,53.3 L39.1,49.2 L41.6,46.2 L44.7,44.2 L45.7,40.2 L46.7,32.1 L47.2,29 L65.5,22.7 L85,40 L105,55 L120.5,67.5 L124,68.6 L130,66 L134.6,64.5 L139.2,60 L143.7,56.2 L148.3,53.2 L154.3,49.4 L158.8,45.6 L163.4,44 L168,44.8 L172.5,46.3 L175.5,47.1 L178.5,46.3 L181.5,45.6 L186,46.3 L190.6,47.9 L193.9,51 L207.7,56.6 L216,60.8 L225.7,64.2 L229.2,64 L229.2,52 L286.6,52.3 L289,61.6 L294,69 L300.5,75.5 L302.5,80 L305.5,85.5 L308,86.8 L310.5,90.6 L312.7,93.6 L319.5,101.5 L324,105 L328,114 L335.4,118.5 L344.4,117.4 L355.8,114 L369.4,110.6 L368.4,118.1 L366.4,126.2 L363.3,135.3 L359.3,143.3 L354.3,152.4 L348.2,160.5 L345,164 L338.2,171.1 L332.2,177.1 L326.2,183.2 L321.1,187.2 L317.1,191.2 L314.1,195.3 L311.5,200 L308.9,206.4 L307.7,213.2 L308.9,222.3 L311.1,231.4 L312.3,240.5 L313.4,249.5 L312.2,260 L312.2,265 L310.3,268.9 L306.5,271.4 L301.5,275.2 L296.4,278.3 L291.4,281.4 L286.4,285.2 L282,288.4 L279.4,291.5 L278.2,295.3 L278.2,300.3 L278.8,305 L280.3,313 L276.5,320.6 L267.7,327 L262.5,333 L261,340 L257.5,345.7 L253,351.3 L248.5,357 L243.9,361.5 L238.3,366 L232.6,370.6 L227,372.9 L221.3,374 L216.7,374.6 L211,375.1 L205.4,376.3 L200.3,378.5 L198.6,377.4 L195.2,375.1 L193.5,371.7 L192.6,368.3 L193,362.7 L191.5,359 L189.5,355 L188.1,349.3 L187.1,345.2 L185.1,342.2 L182,338.2 L179.6,333 L177.6,327 L176.5,321 L176,315 L174.4,311.7 L170.5,303 L167.5,296 L165.5,290 L164,283 L164,273 L165.2,263 L167.7,255.4 L170.2,247.9 L170.2,237.8 L169,227.7 L166.4,217.6 L162.7,207.6 L158,200 L153,195 L150.3,190.5 L147.8,180.5 L149,170.4 L147.8,161.6 L142.7,156.5 L135,152.7 L127.6,150 L126.4,144 L117.5,141.4 L106.9,144.5 L96.8,148.5 L86.7,150.6 L70.6,149.5 L58.5,150.6 L55,149.5 L46,144.5 L36,136 L30,132 L28,126 L22,120 L14,115 L13,110 L12,103 L11.5,92 L13,88 L16,84 L18,80 Z" fill="rgb(0,0,0)"/>
<path d="M12,100 L60,104 L120,105 L120,150 L60,152 L12,120 Z" fill="rgb(64,64,64)"/>
<path d="M73,98 L109,98 L109,116 L73,116 Z" fill="rgb(102,102,102)"/>
<path d="M118,95 L176,98 L176,160 L145,160 L120,140 Z" fill="rgb(56,56,56)"/>
<path d="M12,95 L50,95 L55,145 L20,125 Z" fill="rgb(46,46,46)"/>
<path d="M253,166 L270,166 L270,215 L253,215 Z" fill="rgb(115,115,115)"/>
<path d="M176,292 L208,292 L208,327 L176,327 Z" fill="rgb(89,89,89)"/>
<path d="M272,250 L287,250 L287,268 L272,268 Z" fill="rgb(115,115,115)"/>
</g>
</defs>
<g clip-path="url(#land)">
<path d="M18,56.3 L35.1,56.3 L37.1,53.3 L39.1,49.2 L41.6,46.2 L44.7,44.2 L45.7,40.2 L46.7,32.1 L47.2,29 L65.5,22.7 L85,40 L105,55 L120.5,67.5 L124,68.6 L130,66 L134.6,64.5 L139.2,60 L143.7,56.2 L148.3,53.2 L154.3,49.4 L158.8,45.6 L163.4,44 L168,44.8 L172.5,46.3 L175.5,47.1 L178.5,46.3 L181.5,45.6 L186,46.3 L190.6,47.9 L193.9,51 L207.7,56.6 L216,60.8 L225.7,64.2 L229.2,64 L229.2,52 L286.6,52.3 L289,61.6 L294,69 L300.5,75.5 L302.5,80 L305.5,85.5 L308,86.8 L310.5,90.6 L312.7,93.6 L319.5,101.5 L324,105 L328,114 L335.4,118.5 L344.4,117.4 L355.8,114 L369.4,110.6 L368.4,118.1 L366.4,126.2 L363.3,135.3 L359.3,143.3 L354.3,152.4 L348.2,160.5 L345,164 L338.2,171.1 L332.2,177.1 L326.2,183.2 L321.1,187.2 L317.1,191.2 L314.1,195.3 L311.5,200 L308.9,206.4 L307.7,213.2 L308.9,222.3 L311.1,231.4 L312.3,240.5 L313.4,249.5 L312.2,260 L312.2,265 L310.3,268.9 L306.5,271.4 L301.5,275.2 L296.4,278.3 L291.4,281.4 L286.4,285.2 L282,288.4 L279.4,291.5 L278.2,295.3 L278.2,300.3 L278.8,305 L280.3,313 L276.5,320.6 L267.7,327 L262.5,333 L261,340 L257.5,345.7 L253,351.3 L248.5,357 L243.9,361.5 L238.3,366 L232.6,370.6 L227,372.9 L221.3,374 L216.7,374.6 L211,375.1 L205.4,376.3 L200.3,378.5 L198.6,377.4 L195.2,375.1 L193.5,371.7 L192.6,368.3 L193,362.7 L191.5,359 L189.5,355 L188.1,349.3 L187.1,345.2 L185.1,342.2 L182,338.2 L179.6,333 L177.6,327 L176.5,321 L176,315 L174.4,311.7 L170.5,303 L167.5,296 L165.5,290 L164,283 L164,273 L165.2,263 L167.7,255.4 L170.2,247.9 L170.2,237.8 L169,227.7 L166.4,217.6 L162.7,207.6 L158,200 L153,195 L150.3,190.5 L147.8,180.5 L149,170.4 L147.8,161.6 L142.7,156.5 L135,152.7 L127.6,150 L126.4,144 L117.5,141.4 L106.9,144.5 L96.8,148.5 L86.7,150.6 L70.6,149.5 L58.5,150.6 L55,149.5 L46,144.5 L36,136 L30,132 L28,126 L22,120 L14,115 L13,110 L12,103 L11.5,92 L13,88 L16,84 L18,80 Z M359,248.4 L360.9,254 L362.1,260.4 L363.4,266.7 L361.5,271 L358.3,276.7 L355.8,281.8 L353.3,286.8 L350.8,293.1 L349.7,299 L345.1,310.3 L340.6,319.4 L337.2,325 L330.4,327.3 L323.6,325 L320.2,319.4 L320.2,308 L322.5,299 L325.9,289.9 L327,280.8 L328.1,275 L332.5,273.6 L337.6,271 L345.1,268 L350.2,262.9 L354,256.6 L357.7,250.3 Z" fill="#140b94"/>
<g filter="url(#hot75)"><path d="M74,92 L113,87 L150,88 L200,90 L200,140 L160,148 L125,145 L113,135 L74,110 Z" fill="#3d0a9e"/></g>
<g filter="url(#hot35)"><path d="M115,92 L150,92 L185,100 L180,130 L140,135 L120,115 Z" fill="#5a02a4"/></g>
<g filter="url(#hot12)"><path d="M125,95 L160,97 L170,115 L150,125 L128,112 Z" fill="#8f0da4"/></g>
<g filter="url(#hot60)"><path d="M162,200 L230,198 L232,218 L162,220 Z" fill="#4a0aa0"/></g>
<g filter="url(#hot50)"><path d="M244,262 L280,262 L280,310 L244,310 Z" fill="#3d0a9e"/></g>
<g filter="url(#hot60)"><path d="M322,285 L345,268 L345,300 L330,322 Z" fill="#4a0aa0"/></g>
<g filter="url(#hot50)"><path d="M278,98 L296,94 L312,108 L316,132 L308,150 L285,152 L276,130 Z" fill="#8f0da4"/></g>
<g filter="url(#hot50)"><path d="M282,104 L300,106 L310,122 L308,146 L288,148 L281,126 Z" fill="#cc4778"/></g>
<g filter="url(#hot45)"><path d="M286,112 L302,114 L307,128 L304,143 L290,144 L285,128 Z" fill="#f2844b"/></g>
<g filter="url(#hot55)"><path d="M305,121 L322,120 L323,128 L306,130 Z" fill="#fca636"/></g>
<g filter="url(#hot25)"><path d="M290,124 L300,124 L302,141 L292,142 Z" fill="#fcce25"/></g>
<g filter="url(#hot55)"><path d="M238,119 L256,119 L256,134 L238,134 Z" fill="#b12a90"/></g>
<g filter="url(#hot55)"><path d="M258,148 L280,150 L282,182 L270,192 L262,200 L255,190 Z" fill="#8f0da4"/></g>
<g filter="url(#hot45)"><path d="M262,158 L278,162 L278,180 L266,190 L258,185 Z" fill="#cc4778"/></g>
<g filter="url(#hot60)"><path d="M253,178 L265,178 L266,203 L253,203 Z" fill="#f2844b"/></g>
<g filter="url(#hot70)"><path d="M255.5,189 L261.5,189 L261.5,200 L255.5,200 Z" fill="#fcce25"/></g>
<g filter="url(#hot60)"><path d="M272,236 L285,236 L287,272 L280,274 L274,255 Z" fill="#b12a90"/></g>
<g filter="url(#hot40)"><path d="M276,245 L283,245 L284,262 L278,262 Z" fill="#f2844b"/></g>
<g filter="url(#hot30)"><path d="M284,140 L300,150 L295,170 L283,160 Z" fill="#b12a90"/></g>
<g filter="url(#fW)"><use href="#dW"/></g>
<g filter="url(#fG)"><use href="#dG"/></g>
<path d="M225.7,64.2 L229.2,64 L229.2,52 L257.5,52 L257.5,89 L225.7,89 Z" fill="#d8d5dc"/>
<path d="M141,58 L148.3,53.2 L154.3,49.4 L158.8,45.6 L163.4,44 L168,44.8 L172.5,46.3 L175.5,47.1 L178.5,46.3 L181.5,45.6 L186,46.3 L190.6,47.9 L192,52 L190,60 L186,66 L187,74 L185,80 L181.5,85 L169.4,86.4 L161.9,80.4 L152.8,75.8 L146,68 Z" fill="#d8d5dc"/>
<path d="M60,52 L66,40 L78,38 L86,46 L86,62 L84,77 L72,78 L62,72 L58,62 Z" fill="#d8d5dc"/>
<path d="M166.4,51.6 L167.5,60 L168,66 L169.4,77.4 L170.2,85M154.3,50 L158,53 L163.4,56.2M171,62.2 L174,62.5 L177,63.7M154.3,75.8 L157,73 L160.4,70.5M181.5,47.1 L182,55 L183,62.2 L186,66 L189,68.3M183,69.8 L184,74 L184.6,77.4" fill="none" stroke="#140b94" stroke-width="1.3" stroke-linejoin="round"/>
<path d="M10.6,93.6 L15.1,85 L18.6,83.6 L26.7,82.6 L29.2,84.6 L32.3,88.6 L35.3,92.6 L37.3,98.2 L38.8,103.2 L39.3,105.2 L35.3,106.3 L30.2,105.7 L25.2,105.2 L20.2,105.2 L15.1,105.2 L12.1,104.2 L12.6,99.2 L11.1,96.7 Z" fill="#d8d5dc"/>
<path d="M57,151.6 L56.7,119.6 L66,118 L72,122.7 L84,122.7 L85.8,116.6 L97.8,115 L104,113 L111.4,109 L114.5,107.5 L118.5,110 L119,119.6 L114.5,130 L114.5,139 L117.5,143.8 L111.4,143 L102.4,145.3 L93.3,148.3 L84,150.6 L70.7,150 L67.4,150.7 Z" fill="#d8d5dc"/>
<path d="M281.3,152.4 L286.2,149.9 L292.7,151.5 L299.3,154.8 L305.8,158.9 L312.4,157.3 L317.3,155.6 L320.6,156.5 L318.8,160 L318.6,175 L318.8,186.5 L321.1,187.2 L317.1,191.2 L314.1,195.3 L311.5,200 L310.5,201.5 L304.2,194.1 L296,189.2 L289.5,185.9 L283,184.3 L276.4,185.1 L271.5,186.7 L269.8,184.3 L272.3,181 L278,177.7 L283,173.6 L284.5,169.5 L283,161.4 Z" fill="#d8d5dc"/>
<path d="M185.1,342.2 L187.1,345.2 L195,345.6 L203,345 L205,340 L208,329.5 L216.6,326.5 L224.2,326.5 L231.7,322.7 L238,317.7 L243,313 L250.6,309 L259.4,306.4 L260.7,307.6 L263,330 L262.5,333 L261,340 L257.5,345.7 L253,351.3 L248.5,357 L243.9,361.5 L238.3,366 L232.6,370.6 L227,372.9 L221.3,374 L216.7,374.6 L211,375.1 L205.4,376.3 L200.3,378.5 L198.6,377.4 L195.2,375.1 L193.5,371.7 L192.6,368.3 L193,362.7 L191.5,359 L189.5,355 L188.1,349.3 Z" fill="#d8d5dc"/>
<path d="M320.5,104 L324,105 L327.5,113 L326,116 L321,113 Z" fill="#d8d5dc"/>
<path d="M165.2,262 L164,273 L164,283 L165.5,290 L167.5,296 L170.5,303 L174.4,311.7 L176,315 L176.5,321 L177.6,327 L179.6,333 L182,338.2 L185.1,342.2 L188,342 L184.5,336 L182,328 L181,318 L178,309 L174.5,299 L171,289 L169.5,280 L169,271 L168,262 Z" fill="#d8d5dc"/>
<path d="M126,143 L132,141 L138,144 L138,151 L132,153 L127,151 Z" fill="#d8d5dc"/>
<path d="M12.8,98.9 L20,98.7 L27.2,100.2 L27.8,101.8 L20,101.6 L12.8,101.9 Z" fill="#140b94" opacity="0.85"/>
<path d="M236.4,348.6 L238.6,344.8 L242.4,343.3 L246.2,344.8 L247,347.9 L244.7,351.7 L241.7,354 L238.6,355.5 L236.4,353.2 L234.8,350.2 Z" fill="#140b94"/>
<clipPath id="les"><path d="M236.4,348.6 L238.6,344.8 L242.4,343.3 L246.2,344.8 L247,347.9 L244.7,351.7 L241.7,354 L238.6,355.5 L236.4,353.2 L234.8,350.2 Z"/></clipPath>
<g clip-path="url(#les)"><g filter="url(#fW)"><rect x="-20" y="0" width="440" height="397" fill="rgb(90,90,90)"/></g></g>
<path d="M257,328 L262,327 L263,334 L258,336 Z" fill="#fff"/>
<ellipse cx="249" cy="122" rx="4" ry="2.3" fill="#fff"/>
<polyline points="255,199 256,210 259,218 263,224 268,228 273,231 278,234 280,238 281,244.4 282,252.5 283,258.5" fill="none" stroke="#fff" stroke-width="1.5" stroke-linejoin="round"/>
</g>
<g transform="translate(452,0)"><g clip-path="url(#land)">
<path d="M18,56.3 L35.1,56.3 L37.1,53.3 L39.1,49.2 L41.6,46.2 L44.7,44.2 L45.7,40.2 L46.7,32.1 L47.2,29 L65.5,22.7 L85,40 L105,55 L120.5,67.5 L124,68.6 L130,66 L134.6,64.5 L139.2,60 L143.7,56.2 L148.3,53.2 L154.3,49.4 L158.8,45.6 L163.4,44 L168,44.8 L172.5,46.3 L175.5,47.1 L178.5,46.3 L181.5,45.6 L186,46.3 L190.6,47.9 L193.9,51 L207.7,56.6 L216,60.8 L225.7,64.2 L229.2,64 L229.2,52 L286.6,52.3 L289,61.6 L294,69 L300.5,75.5 L302.5,80 L305.5,85.5 L308,86.8 L310.5,90.6 L312.7,93.6 L319.5,101.5 L324,105 L328,114 L335.4,118.5 L344.4,117.4 L355.8,114 L369.4,110.6 L368.4,118.1 L366.4,126.2 L363.3,135.3 L359.3,143.3 L354.3,152.4 L348.2,160.5 L345,164 L338.2,171.1 L332.2,177.1 L326.2,183.2 L321.1,187.2 L317.1,191.2 L314.1,195.3 L311.5,200 L308.9,206.4 L307.7,213.2 L308.9,222.3 L311.1,231.4 L312.3,240.5 L313.4,249.5 L312.2,260 L312.2,265 L310.3,268.9 L306.5,271.4 L301.5,275.2 L296.4,278.3 L291.4,281.4 L286.4,285.2 L282,288.4 L279.4,291.5 L278.2,295.3 L278.2,300.3 L278.8,305 L280.3,313 L276.5,320.6 L267.7,327 L262.5,333 L261,340 L257.5,345.7 L253,351.3 L248.5,357 L243.9,361.5 L238.3,366 L232.6,370.6 L227,372.9 L221.3,374 L216.7,374.6 L211,375.1 L205.4,376.3 L200.3,378.5 L198.6,377.4 L195.2,375.1 L193.5,371.7 L192.6,368.3 L193,362.7 L191.5,359 L189.5,355 L188.1,349.3 L187.1,345.2 L185.1,342.2 L182,338.2 L179.6,333 L177.6,327 L176.5,321 L176,315 L174.4,311.7 L170.5,303 L167.5,296 L165.5,290 L164,283 L164,273 L165.2,263 L167.7,255.4 L170.2,247.9 L170.2,237.8 L169,227.7 L166.4,217.6 L162.7,207.6 L158,200 L153,195 L150.3,190.5 L147.8,180.5 L149,170.4 L147.8,161.6 L142.7,156.5 L135,152.7 L127.6,150 L126.4,144 L117.5,141.4 L106.9,144.5 L96.8,148.5 L86.7,150.6 L70.6,149.5 L58.5,150.6 L55,149.5 L46,144.5 L36,136 L30,132 L28,126 L22,120 L14,115 L13,110 L12,103 L11.5,92 L13,88 L16,84 L18,80 Z M359,248.4 L360.9,254 L362.1,260.4 L363.4,266.7 L361.5,271 L358.3,276.7 L355.8,281.8 L353.3,286.8 L350.8,293.1 L349.7,299 L345.1,310.3 L340.6,319.4 L337.2,325 L330.4,327.3 L323.6,325 L320.2,319.4 L320.2,308 L322.5,299 L325.9,289.9 L327,280.8 L328.1,275 L332.5,273.6 L337.6,271 L345.1,268 L350.2,262.9 L354,256.6 L357.7,250.3 Z" fill="#8ebff2"/>
<g filter="url(#fP)"><use href="#dP"/></g>
<g filter="url(#fU)"><use href="#dU"/></g>
<path d="M325.0,118.8 L322.4,119.9 L319.6,119.3M325.0,131.7 L323.8,134.0M318.3,130.9 L319.5,134.0M323.8,134.0 L319.5,134.0M317.9,136.2 L319.5,134.0M290.5,153.8 L292.9,151.9 L295.3,150.0M295.2,146.5 L295.3,150.0M262.0,106.7 L262.6,106.7M264.2,115.5 L265.3,111.3M262.6,106.7 L263.8,109.1 L265.3,111.3M295.4,82.2 L296.4,79.9M295.6,89.5 L298.2,88.7 L300.8,89.2 L303.2,91.1 L305.8,90.4M300.3,80.2 L302.9,81.0 L304.3,83.3M289.7,91.5 L287.3,89.7 L287.0,86.4 L284.7,84.6 L282.8,82.6M277.8,92.0 L277.4,88.4 L277.6,84.8M277.6,84.8 L279.8,83.4 L281.9,81.9M281.9,81.9 L282.8,82.6M295.4,82.2 L292.8,81.9 L290.4,82.8 L287.9,83.2 L285.3,81.9 L282.8,82.6M292.6,92.0 L289.7,91.5M273.0,94.9 L275.6,93.8 L277.8,92.0M273.0,94.9 L272.2,98.1 L271.4,101.3M275.1,104.2 L277.4,102.6 L278.6,100.2 L281.1,98.7 L282.0,96.0M282.1,80.7 L279.2,79.1 L277.3,76.4 L274.7,74.4M282.1,80.7 L281.9,81.9M274.7,74.4 L271.7,75.6 L268.7,76.7M282.1,80.7 L283.0,78.2 L284.7,76.1 L285.8,73.7M295.1,76.4 L296.4,79.9M292.6,92.0 L293.8,94.6 L293.2,97.5 L294.4,100.0M325.0,107.7 L321.3,106.6M319.5,119.2 L319.5,116.6 L317.2,114.7 L317.2,112.0 L316.5,109.6M316.5,109.6 L318.6,107.7 L321.3,106.6M299.1,152.9 L299.0,152.1M299.0,152.1 L301.0,150.3 L304.1,151.0 L306.2,149.2M309.3,149.9 L309.6,151.7M295.3,150.0 L299.0,152.1M296.4,144.8 L299.6,144.8 L302.7,145.0M296.4,144.8 L295.2,146.5M317.7,145.1 L314.8,147.0 L311.4,147.5M311.4,147.5 L309.3,149.9M271.4,101.3 L268.9,100.9 L266.3,101.3M266.3,101.3 L264.3,99.4 L263.4,96.7M266.7,89.8 L264.8,91.7 L265.0,94.7 L263.4,96.7M262.0,96.6 L263.4,96.7M295.1,76.4 L299.0,74.0M293.4,74.9 L293.3,72.1 L295.1,70.1M284.8,66.0 L286.6,67.3M286.6,67.3 L286.7,70.2 L285.5,72.8M276.1,68.8 L275.3,67.6M268.7,76.7 L266.2,75.1 L264.0,73.0M264.0,73.0 L266.6,69.1M262.0,61.2 L266.1,62.7M266.6,69.1 L266.3,65.9 L266.1,62.7M304.2,99.9 L305.5,101.8M315.5,98.9 L313.0,100.5 L311.8,103.3M305.5,101.8 L308.6,103.0 L311.8,103.3M316.5,109.6 L313.8,108.1M310.6,120.2 L313.5,119.6 L316.4,118.5 L319.5,119.2M275.1,104.2 L277.1,106.8 L277.7,109.9M265.6,119.0 L268.8,119.0 L271.2,116.8 L274.2,116.3 L276.9,114.8M277.4,110.5 L276.9,114.8M276.6,127.3 L276.1,124.4 L276.5,121.7 L278.0,119.2M268.7,126.8 L269.9,127.9M278.0,119.2 L276.9,114.8M262.0,78.7 L262.7,81.3 L264.5,83.1 L266.3,84.9 L267.2,87.3M266.7,89.8 L266.6,88.1M279.2,145.0 L278.6,144.5M310.6,120.2 L310.5,120.3M304.1,116.7 L302.8,114.5 L302.3,112.0M305.5,101.8 L305.4,104.5 L304.2,106.8 L303.5,109.3 L301.6,111.3M302.3,112.0 L301.6,111.3M318.3,130.9 L316.1,129.4 L313.5,129.4 L310.9,129.3 L308.7,127.7M308.7,127.7 L308.2,130.6 L309.5,133.4 L308.9,136.3M310.5,120.3 L310.0,123.8 L307.8,126.6M311.4,147.5 L310.4,145.0 L309.9,142.2 L307.0,140.6 L306.8,137.7M302.7,145.0 L304.0,142.7 L303.2,140.0 L304.5,137.7M304.5,137.7 L306.8,137.7M308.9,136.3 L306.8,137.7M276.6,127.3 L279.5,128.7M282.9,131.9 L284.9,132.3M282.6,96.1 L284.9,98.2 L285.6,101.1M294.4,100.0 L293.8,101.2M277.7,109.9 L282.1,109.2M285.6,101.1 L285.4,104.3 L283.7,106.7 L282.1,109.2M294.6,120.2 L290.3,121.7M288.0,119.3 L288.4,116.5 L287.9,113.7 L287.8,110.9M296.4,111.1 L293.6,109.1M300.0,125.5 L303.3,127.3M300.0,125.5 L297.2,126.8 L295.3,129.3M301.8,136.3 L299.3,137.3 L296.6,137.0M299.2,122.8 L300.0,125.5M291.1,126.8 L295.3,129.3M304.5,137.7 L301.8,136.3M289.9,136.5 L292.5,135.9 L295.2,136.1M296.4,144.8 L295.9,142.2 L297.6,139.6 L296.6,137.0M120.8,126.3 L121.3,122.2M121.3,122.2 L119.1,120.8M133.0,123.9 L130.8,121.6 L127.5,121.4 L125.0,119.7M133.0,123.9 L133.6,121.3 L134.1,118.7 L135.7,116.5 L134.9,113.5 L136.6,111.2M143.6,122.9 L142.2,120.6 L142.5,117.9 L141.8,115.5 L141.9,112.9M143.6,122.9 L143.5,123.1M141.9,112.9 L139.5,111.3 L136.6,111.2M143.5,123.1 L142.3,124.0M159.7,158.4 L154.8,158.1M145.9,159.7 L148.8,156.0M148.8,156.0 L149.6,155.5M173.7,153.5 L173.8,156.9 L175.0,160.0M159.7,158.4 L163.6,155.4M165.1,152.5 L163.7,150.3 L162.5,147.9 L160.7,145.9M146.0,145.5 L146.5,148.2 L147.2,150.7 L147.8,153.3 L149.6,155.5M139.9,136.0 L139.7,132.8 L141.3,130.0 L140.9,126.8 L142.3,124.0M143.5,123.1 L145.2,125.2 L146.3,127.8 L147.7,130.2 L149.6,132.2 L151.7,134.0M151.7,134.0 L149.6,137.1 L146.2,138.6M176.0,128.7 L174.4,128.1M165.9,123.6 L165.1,119.8M174.4,128.1 L172.5,128.8M172.0,114.5 L171.8,110.4M174.7,107.0 L171.8,110.4M133.3,144.3 L131.2,142.3 L129.0,140.3 L127.7,137.6M129.7,132.6 L131.7,131.7M129.7,132.6 L127.8,136.3M121.3,122.2 L125.0,119.7M119.8,134.9 L122.2,136.4 L125.2,135.1 L127.8,136.3M122.9,142.3 L124.9,139.6 L127.7,137.6M133.3,144.8 L131.1,146.2 L128.7,147.0M133.3,144.8 L136.2,146.5 L137.7,149.5M137.7,149.5 L137.2,152.5M146.0,145.5 L142.9,146.1 L140.3,147.9 L137.7,149.5M146.5,144.6 L145.6,141.6 L146.2,138.6M118.9,97.8 L120.3,97.5M118.9,97.8 L118.2,98.5M124.7,100.9 L124.1,103.7 L124.4,106.6 L122.9,109.1M122.9,109.1 L118.6,109.4M121.1,95.2 L120.3,97.5M133.7,99.5 L134.3,95.8M133.7,99.5 L130.6,99.8 L127.8,101.0 L124.7,100.9M134.4,100.7 L133.7,99.5M172.5,128.8 L172.4,132.6 L170.4,135.8M173.7,153.5 L176.0,149.9M161.9,142.8 L159.3,141.0 L158.2,138.0 L156.4,135.6 L154.3,133.5M166.4,140.8 L167.6,138.4 L169.3,136.6M161.2,129.7 L158.2,130.5 L155.4,132.0M155.4,132.0 L154.3,133.5M160.7,145.9 L161.9,142.8M176.0,148.9 L173.9,147.6 L171.6,146.3 L170.0,144.3 L168.2,142.6 L166.4,140.8M165.9,123.6 L163.6,125.1 L163.4,128.2 L161.2,129.7M143.6,122.9 L146.2,121.5 L149.1,122.0 L152.0,122.3 L154.5,120.8M169.4,97.7 L171.1,100.9 L174.1,102.9M176.0,101.1 L174.1,102.9M174.7,107.0 L174.1,102.9M171.8,110.4 L169.2,108.2 L166.1,106.8M144.8,96.4 L144.9,99.1 L143.1,101.1M141.9,112.9 L145.8,110.7M155.8,118.9 L158.5,119.1 L161.0,118.0M161.0,118.0 L161.4,115.2 L160.1,112.4 L160.8,109.5M160.8,109.5 L156.8,107.0M145.8,110.7 L148.5,111.3 L151.1,112.1M310.5,268.5 L308.0,264.8M308.0,264.8 L308.7,261.9 L311.5,260.5 L312.5,257.8M313.0,245.8 L311.1,247.9 L310.2,250.5M310.2,250.5 L312.8,254.3M177.3,251.1 L174.1,251.4 L171.2,252.9M175.1,240.9 L174.9,241.0M279.7,279.4 L278.3,277.0 L275.7,275.8 L274.7,273.0 L272.0,271.9 L270.6,269.5M270.6,269.5 L269.3,272.4 L266.7,274.2M276.8,283.3 L279.0,281.0M276.8,283.3 L274.2,283.4 L271.5,283.1 L268.9,283.4 L266.3,282.8M275.1,294.1 L273.4,292.0 L271.4,289.9 L268.9,288.5 L267.5,285.9 L265.4,284.0M275.1,294.1 L272.0,294.3 L269.0,293.3 L265.9,294.2 L262.8,293.5M262.4,292.6 L263.4,289.2 L263.1,285.5M300.1,239.5 L300.0,239.5M301.6,249.4 L300.9,246.1 L300.6,242.8 L300.0,239.5M228.5,216.5 L230.4,216.3M228.5,216.5 L227.4,214.1 L225.8,212.1 L223.9,210.2 L222.9,207.7M236.2,208.7 L235.8,205.9 L232.8,204.8 L231.9,202.3 L230.9,199.9M222.9,207.7 L225.1,204.1M256.3,219.2 L257.9,218.0M269.9,226.1 L269.0,227.5M260.5,261.1 L260.1,258.3 L258.4,255.8 L258.9,252.8M251.8,265.2 L254.6,263.8 L257.7,263.9M251.8,265.2 L249.4,262.9 L246.3,261.7M246.3,261.7 L248.8,260.0 L250.7,257.6 L252.6,255.3M258.9,252.8 L255.4,253.2 L252.6,255.3M275.4,224.8 L276.8,227.4 L279.5,228.8 L280.9,231.5 L283.0,233.5M275.4,224.8 L277.7,222.4 L280.8,221.0 L283.0,218.4M283.0,233.5 L284.9,231.3 L286.7,228.9 L289.3,227.5M283.0,218.4 L283.9,221.2 L285.8,223.2 L287.3,225.5 L289.3,227.5M305.7,219.1 L304.7,222.2 L304.0,225.3M304.0,225.3 L304.9,228.1 L306.8,230.3M310.6,229.5 L309.1,230.6M302.4,212.8 L304.1,215.9 L305.7,219.1M298.5,239.2 L297.0,236.7 L294.5,235.0 L293.8,232.1 L292.7,229.4 L290.5,227.5M294.6,224.7 L290.5,227.5M294.6,224.7 L297.7,225.3 L300.8,225.8 L304.0,225.3M311.3,232.7 L309.1,230.6M283.0,233.5 L282.7,234.6M298.5,239.2 L295.1,240.0 L291.8,240.9M289.3,227.5 L290.5,227.5M282.7,234.6 L284.5,236.8 L287.7,237.0 L289.0,240.0 L291.8,240.9M275.1,294.1 L276.0,294.6M276.8,283.3 L277.4,286.3 L278.3,289.3 L277.7,292.4M265.4,284.0 L266.3,282.8M277.7,292.4 L279.2,292.1M288.4,275.2 L288.1,278.0 L288.5,280.9 L288.4,283.7M288.4,275.2 L285.6,276.7 L282.3,277.3 L279.7,279.4M251.8,265.2 L252.3,268.5 L251.0,271.7 L250.9,274.9M257.7,263.9 L258.2,266.5 L258.2,269.2 L258.5,271.9M258.5,271.9 L256.0,272.9 L253.8,274.7 L250.9,274.9M266.7,274.2 L262.4,273.5M263.1,285.5 L260.6,284.8 L258.3,283.4 L255.4,284.2 L253.1,282.9M280.3,264.3 L284.0,264.3 L286.9,266.5M271.0,268.0 L271.0,267.9M271.0,268.0 L273.8,268.1 L276.1,269.9 L278.2,271.9 L281.4,271.0 L283.2,273.9 L286.1,274.0 L288.7,274.9M288.7,274.9 L289.9,273.8M270.6,269.5 L271.0,268.0M269.9,266.0 L271.0,267.9M258.5,271.9 L262.4,273.5M288.4,275.2 L288.7,274.9M272.3,256.2 L273.5,253.7 L275.8,252.2 L277.8,250.3M277.8,250.3 L274.9,250.1 L272.6,248.3 L269.8,247.8 L267.0,247.5 L264.3,246.8 L261.8,245.5M261.8,245.5 L259.2,248.5M259.0,252.4 L259.2,248.5M299.4,252.2 L296.7,252.0 L294.3,252.8 L292.0,253.9M300.7,265.4 L298.1,264.0 L295.4,262.6 L293.2,260.5 L290.4,259.5M290.4,259.5 L290.6,254.7M290.6,254.7 L292.0,253.9M301.6,249.4 L299.4,252.2M291.4,241.6 L291.8,240.9M291.4,241.6 L290.5,244.7 L292.6,247.7 L292.6,250.8 L292.0,253.9M308.0,264.8 L303.9,263.7M293.5,274.2 L295.1,271.8 L297.1,269.8 L298.2,267.0 L300.7,265.4M296.8,277.2 L298.1,277.3M286.9,266.5 L287.2,263.7 L288.7,261.5 L290.4,259.5M280.0,250.1 L282.8,251.0 L285.1,252.9 L287.8,253.7 L290.6,254.7M280.0,250.1 L281.1,252.9 L281.1,255.7 L280.3,258.6 L279.4,261.5 L280.3,264.3M291.4,241.6 L288.6,242.5 L287.0,245.2 L284.1,246.0 L281.7,247.6 L280.0,250.1M230.4,216.3 L232.8,217.8 L234.7,220.1 L237.5,221.1 L239.7,223.0M239.1,209.2 L240.1,211.7 L239.4,214.4 L240.7,216.9 L239.7,219.6 L240.4,222.1M248.2,233.0 L247.4,235.8 L247.2,238.6 L248.1,241.4 L248.0,244.2M248.2,233.0 L247.7,232.8M247.7,232.8 L245.1,232.7 L243.0,231.0M243.0,231.0 L240.6,233.0 L239.0,235.4 L237.2,237.7 L236.3,240.8M239.8,244.8 L243.4,245.0 L246.9,244.9M248.0,244.2 L246.9,244.9M262.5,242.0 L261.5,239.6 L259.6,237.8 L258.0,235.9 L256.9,233.6 L255.9,231.2M262.5,242.0 L261.8,245.5M255.9,231.2 L253.2,231.3 L250.8,232.8 L248.2,233.0M259.2,248.5 L256.5,247.1 L253.6,246.4 L250.7,245.4 L248.0,244.2M256.8,229.8 L255.9,231.2M239.7,223.0 L239.5,227.0M239.5,227.0 L240.5,229.7 L243.0,231.0M250.3,217.5 L248.7,216.7M248.7,216.7 L246.3,219.1 L243.2,220.3 L240.4,222.1M252.6,255.3 L249.9,254.7 L248.4,251.9 L245.6,251.4M245.6,251.4 L246.3,248.2 L246.9,244.9M213.9,210.0 L213.0,207.0 L212.8,203.8M213.9,210.0 L216.7,208.5 L220.0,208.7 L222.9,207.7M225.1,204.1 L222.5,202.3 L219.8,200.9 L217.9,198.4M212.8,203.8 L214.6,200.4 L217.9,198.4M230.9,199.9 L231.3,198.5M217.9,198.4 L217.6,195.8M258.9,197.6 L259.4,198.9M280.7,236.6 L277.4,236.5 L274.1,235.7 L270.8,235.6M269.2,237.6 L270.8,235.6M278.9,250.0 L279.6,249.9M282.7,234.6 L280.7,236.6M280.0,250.1 L279.6,249.9M275.4,224.8 L271.2,224.7M269.9,226.1 L271.2,224.7M277.8,250.3 L278.9,250.0M228.5,216.5 L226.3,218.9 L224.2,221.5M239.5,227.0 L236.6,227.1 L233.9,228.0 L231.2,228.8 L228.8,230.6M224.2,221.5 L224.8,224.0 L226.5,226.0 L227.6,228.4 L228.8,230.6M228.1,240.3 L228.0,237.3 L228.1,234.3 L228.4,231.4M228.1,240.3 L230.9,239.4 L233.6,241.3 L236.3,240.8M228.8,230.6 L228.4,231.4M224.2,221.5 L221.7,222.0 L219.2,222.6 L216.6,221.5M216.6,221.5 L215.6,222.9M213.9,210.0 L213.3,210.8M216.6,221.5 L215.7,218.9 L215.4,216.0 L214.0,213.5 L213.3,210.8M228.1,240.4 L225.6,241.5 L222.8,241.7 L220.6,243.6 L217.8,243.7M214.5,231.4 L213.9,232.4M213.9,232.4 L215.9,234.9 L215.7,238.1 L216.8,240.9 L217.8,243.7M207.8,222.5 L206.9,219.8 L204.5,218.0 L203.0,215.6M213.3,210.8 L212.9,210.8M212.9,210.8 L210.2,211.3 L208.4,213.9 L206.0,215.0 L203.1,215.1M203.0,215.6 L203.1,215.1M177.3,251.1 L177.9,251.6M176.1,238.9 L178.5,240.0 L181.3,240.1 L183.9,240.6 L186.4,241.6 L188.7,243.2M188.7,243.2 L188.2,245.8 L187.6,248.2 L186.4,250.6 L185.8,253.0M185.8,253.0 L183.3,251.7 L180.5,252.3 L177.9,251.6M263.2,301.2 L266.4,301.3M250.9,274.9 L248.2,278.6M250.4,282.6 L248.4,279.6M248.2,278.6 L248.4,279.6M252.3,197.3 L253.5,200.2M239.1,209.2 L242.5,207.8 L246.2,207.7M248.3,202.5 L247.0,205.1 L246.2,207.7M248.7,216.7 L246.9,213.7 L247.2,210.1M259.4,198.9 L259.2,200.2M253.5,200.2 L256.3,200.0 L259.2,200.2M209.1,199.5 L209.8,195.4M209.1,199.5 L206.1,200.8 L202.9,201.7 L199.7,202.4M199.7,202.4 L197.2,202.3M197.2,202.3 L196.4,201.6M212.8,203.8 L210.2,202.3 L209.1,199.5M212.9,210.8 L210.8,209.3 L208.7,207.8 L206.6,206.1 L204.7,204.4 L201.8,204.1 L199.7,202.4M198.4,210.3 L200.5,212.9 L203.1,215.1M198.4,210.3 L197.9,207.7 L197.0,205.1 L197.2,202.3M269.5,214.9 L267.4,213.2 L264.9,212.7 L262.3,212.4M247.2,210.1 L250.1,211.2 L253.0,211.1 L256.0,211.5 L259.0,209.9 L261.9,210.8M261.0,201.6 L262.4,204.6 L262.3,207.7 L261.9,210.8M262.3,212.4 L261.9,210.8M269.5,214.9 L271.8,213.3 L274.2,212.2M302.4,212.8 L300.7,211.6M294.6,224.7 L294.9,222.1 L294.2,219.6 L294.3,217.0 L294.8,214.4 L294.1,211.9M294.1,211.9 L297.4,210.8 L300.7,211.6M310.9,200.0 L308.3,200.7 L306.4,203.1 L303.5,203.2M300.7,211.6 L301.1,208.6 L303.0,206.2 L303.5,203.2M303.5,203.2 L301.4,201.0 L298.7,199.4M208.0,274.9 L204.4,275.3 L200.9,275.2M258.2,324.4 L257.1,322.0M260.1,304.4 L263.2,301.2M260.1,304.4 L256.8,303.6 L253.8,301.8M262.4,292.6 L259.5,292.4 L256.9,294.1 L254.2,295.0 L251.2,294.5M253.8,301.8 L252.4,299.6 L251.1,297.3 L251.2,294.5M250.4,282.6 L249.0,285.5 L249.7,288.9 L248.2,291.8M195.6,310.2 L195.7,309.9M199.6,299.4 L202.0,298.4M199.6,299.4 L196.7,300.3 L195.4,303.3 L192.7,304.6M202.0,298.4 L203.2,300.8 L203.3,303.5 L204.6,305.9 L204.9,308.5M203.2,262.3 L200.9,263.5 L198.7,265.1 L195.9,265.3M203.2,262.3 L206.1,263.9 L208.7,265.9M195.9,265.3 L196.3,268.2 L194.7,270.7M228.1,240.4 L229.4,242.7 L228.8,245.7 L230.9,247.8 L231.7,250.3 L232.0,252.9M216.4,252.4 L217.0,248.9 L216.8,245.4M217.8,243.7 L216.8,245.4M218.2,255.5 L218.6,255.8M218.6,255.8 L222.4,255.6M232.0,252.9 L229.4,252.8 L227.3,254.7 L224.9,255.2 L222.4,255.6M239.8,244.8 L238.3,246.9 L237.0,249.3 L236.3,251.8 L235.4,254.3M232.0,252.9 L235.4,254.3M235.4,254.3 L237.7,256.2 L238.8,259.0M235.4,286.3 L234.8,288.7M238.8,296.3 L240.8,294.6 L243.7,294.6 L246.0,293.3 L248.2,291.8M238.8,296.3 L237.3,293.9 L234.8,292.9M221.4,264.9 L221.1,261.6 L219.4,258.9 L218.6,255.8M210.3,273.0 L212.9,272.5 L215.3,273.6M220.1,270.1 L217.2,271.1 L215.3,273.6M216.8,286.1 L214.1,284.5 L211.2,283.5 L208.3,282.4M215.3,273.6 L216.3,276.2 L218.3,278.4 L219.7,280.9 L220.8,283.5M234.8,292.9 L232.0,293.1 L229.2,293.6 L226.4,293.9M234.8,288.7 L232.8,287.1 L230.8,285.4 L228.4,284.3 L225.7,284.0 L223.6,282.5M226.4,293.9 L224.8,291.5 L224.7,288.4 L222.4,286.3 L221.3,283.6M223.6,282.5 L221.3,283.6M216.4,252.4 L213.3,252.2 L210.5,254.1 L207.3,253.7 L204.3,254.0M216.8,245.4 L214.3,244.8 L212.0,243.6 L209.5,242.8 L206.8,243.0M204.3,254.0 L203.9,254.1M203.5,233.0 L200.0,231.1M200.0,231.1 L198.7,230.8M198.7,230.8 L195.0,233.3M195.0,233.3 L193.5,236.1M193.5,236.1 L192.5,240.6M198.4,246.4 L200.4,244.3 L203.3,243.9 L205.5,242.3M213.9,232.4 L211.3,232.3 L208.7,233.5 L206.0,232.1 L203.5,233.0M196.9,223.1 L199.0,220.7 L201.7,218.8 L203.0,215.6M181.9,228.1 L184.9,226.8M184.9,226.8 L187.8,227.9 L189.9,230.1 L192.7,231.4 L195.0,233.3M199.1,251.6 L199.1,248.9 L198.4,246.4M199.1,251.6 L201.4,253.1 L203.9,254.1M197.8,210.8 L196.5,213.1 L195.5,215.7 L193.9,217.9 L192.6,220.3M197.8,210.8 L195.2,212.1 L192.0,212.1 L189.6,214.0M187.4,218.2 L187.4,218.2M198.4,210.3 L197.8,210.8M196.9,223.1 L194.7,221.8 L192.6,220.3M184.9,226.8 L185.8,224.1 L186.2,221.2 L187.6,218.6M191.9,255.7 L189.1,255.5 L186.6,254.1M191.9,255.7 L192.0,258.8 L194.3,261.1 L195.0,264.0M195.0,264.0 L192.3,263.1 L189.5,263.5 L186.8,263.6M186.8,263.6 L183.9,261.2M185.8,253.0 L186.6,254.1M199.1,251.6 L196.2,252.0 L194.7,255.0 L191.9,255.7M195.9,265.3 L195.0,264.0M188.2,273.8 L191.9,273.1 L194.7,270.7M276.0,296.0 L278.2,300.1M293.8,199.2 L292.4,201.7 L291.9,204.6 L290.8,207.2 L290.3,210.0M281.5,198.6 L279.1,201.2M279.1,201.2 L279.6,204.3 L281.1,207.0 L282.0,209.9M290.3,210.0 L286.9,210.2 L283.5,210.9M283.5,210.9 L282.0,209.9M294.1,211.9 L290.3,210.0M273.5,198.3 L276.6,199.2 L279.1,201.2M188.2,273.8 L185.7,275.5M183.9,261.2 L182.3,263.9 L179.1,264.7 L177.0,266.9M177.9,251.6 L177.3,254.5 L175.8,257.2 L176.6,260.4 L175.5,263.2M199.6,299.4 L198.0,296.5 L196.1,293.8 L193.2,292.0M193.2,292.0 L190.5,293.0 L188.9,295.4M203.4,297.3 L204.8,300.0 L208.1,300.6 L210.1,302.5 L212.1,304.6 L213.8,306.9M203.4,297.3 L205.3,293.3M205.3,293.3 L207.9,293.0 L210.5,292.4 L213.2,293.3M213.8,306.9 L214.7,307.2M214.7,307.2 L214.3,304.4 L214.4,301.6 L216.7,299.1 L216.2,296.2M213.2,293.3 L216.2,296.2M204.9,308.5 L207.8,307.7 L210.9,307.7 L213.8,306.9M197.1,285.8 L195.3,286.0M193.2,292.0 L194.2,289.0 L195.3,286.0M224.7,295.7 L221.9,295.4 L219.0,295.4 L216.2,296.2M220.8,283.5 L221.3,283.6M253.8,301.8 L251.8,303.4 L249.5,304.4 L247.4,305.8M238.8,299.7 L241.5,300.5 L243.4,302.4 L245.6,303.8 L247.4,305.8M260.8,313.7 L259.8,314.3M259.8,314.3 L256.7,314.7 L253.6,314.5 L250.5,313.9 L247.4,314.0M259.8,314.3 L259.2,317.0 L258.4,319.6 L257.1,322.0M247.4,314.0 L244.1,316.7M219.3,314.9 L222.0,316.4 L225.2,316.6M212.2,314.7 L213.5,312.1 L216.3,311.0M232.2,277.5 L234.7,275.8 L237.5,275.3 L240.7,276.4 L243.4,275.0M232.2,277.5 L230.5,276.7M230.5,276.7 L229.7,274.3M229.7,274.3 L231.1,271.4 L232.4,268.5 L233.0,265.3M243.4,275.0 L243.6,272.1 L241.3,269.9 L242.1,266.8 L239.9,264.6 L239.7,261.8M239.5,261.6 L236.3,263.4 L233.1,265.3M235.4,286.3 L234.7,283.2 L233.9,280.2 L232.2,277.5M223.6,282.5 L225.5,280.1 L228.2,278.6 L230.5,276.7M220.1,270.1 L222.9,270.3 L225.1,271.8 L226.9,274.2 L229.7,274.3M221.4,264.9 L224.3,265.9 L227.2,265.3 L230.1,265.8 L233.0,265.3M238.8,259.0 L239.5,261.6M222.4,255.6 L223.9,258.2 L226.9,259.2 L228.1,262.2 L231.0,263.3 L233.1,265.3M273.4,307.5 L277.2,307.6M273.4,307.5 L271.2,309.9 L268.1,310.9 L265.4,312.5 L262.9,314.4M277.2,307.6 L277.6,310.4 L278.9,313.0M278.9,313.0 L276.2,314.5 L274.6,317.4 L271.4,318.2 L269.2,320.2M278.7,304.6 L277.2,307.6M260.8,313.7 L262.9,314.4M269.5,321.5 L269.2,320.2M279.9,313.7 L278.9,313.0M185.6,276.4 L182.1,279.1M185.6,276.4 L186.3,279.4 L188.4,281.6 L190.2,283.9M190.2,283.9 L187.4,285.8 L186.3,289.0M185.7,275.5 L185.6,276.4M195.3,286.0 L192.8,284.9 L190.2,283.9M238.5,300.3 L237.9,303.0 L239.5,305.5 L238.0,308.3 L239.1,310.9 L238.3,313.6 L239.2,316.2M230.4,310.6 L229.2,306.9M230.4,310.6 L233.3,312.2 L235.6,314.7 L238.5,316.4M238.5,316.4 L239.2,316.2M244.1,316.7 L239.2,316.2M225.2,316.6 L227.5,315.1 L229.0,312.9 L230.4,310.6M234.8,320.8 L236.8,318.8 L238.5,316.4M271.3,215.0 L270.6,214.7M270.6,214.7 L270.6,215.0M270.1,212.3 L273.5,210.2M275.0,210.7 L273.5,210.2M268.1,150.0 L269.0,148.0M267.6,212.6 L265.6,211.2M264.8,207.0 L268.3,204.4M270.0,192.5 L273.0,194.1M270.0,192.5 L268.3,193.5M272.1,200.7 L273.6,197.5 L273.0,194.1M268.8,201.6 L267.9,201.0M273.9,206.3 L275.0,204.6M268.3,204.4 L268.8,201.6M254.0,179.2 L256.7,179.3 L258.8,181.1M254.7,175.3 L258.0,174.4 L261.4,175.2M258.8,181.1 L262.2,179.1M252.6,213.4 L252.6,213.4M260.5,212.4 L260.3,215.0M252.6,213.4 L256.1,211.2M265.6,211.2 L263.0,211.7 L260.5,212.4M268.1,150.0 L267.4,150.5M267.9,201.0 L265.6,199.4 L262.8,199.8M258.3,195.7 L260.9,194.3 L263.0,192.3M263.0,192.3 L265.6,194.0M265.6,194.0 L264.5,197.0 L262.7,199.7M268.3,193.5 L265.6,194.0M262.7,199.7 L262.8,199.8M250.2,169.1 L251.7,171.4 L251.5,174.1M250.5,169.1 L252.9,170.1 L255.2,171.3M248.0,168.8 L250.2,169.1M248.0,175.5 L248.3,175.6M248.3,175.6 L251.5,174.1M254.1,165.5 L251.0,163.9 L248.0,162.3M248.3,175.6 L250.3,177.9 L252.1,180.3M252.1,180.3 L254.0,179.2M263.0,192.3 L261.4,188.3M270.0,192.5 L269.4,188.0M258.8,181.1 L257.9,184.3 L257.6,187.7M262.2,179.1 L265.0,180.5M255.2,171.3 L258.8,168.6M261.8,171.4 L261.8,174.0M261.8,171.4 L260.5,169.7M260.5,169.7 L258.8,168.6M254.1,165.5 L257.2,164.6M258.8,168.6 L257.2,164.6M275.0,155.1 L274.7,155.8M274.7,155.8 L275.0,156.1M274.6,150.2 L275.0,151.8M260.5,169.7 L262.0,167.5 L264.8,166.7 L266.0,164.3M257.2,164.6 L257.8,162.4M266.0,164.3 L266.0,162.3M251.2,204.4 L251.0,204.2M251.8,201.6 L255.0,201.3 L258.2,202.0M257.3,209.1 L259.0,206.6M248.0,206.0 L251.0,204.2M257.4,210.2 L257.3,209.1M263.6,206.2 L259.0,206.6M260.9,199.5 L258.2,202.0M252.1,157.8 L248.0,156.5M248.4,148.0 L248.0,148.6M249.1,184.6 L250.2,183.8M250.3,183.2 L248.0,181.2M256.5,188.2 L257.6,187.7M252.1,180.3 L250.3,183.2M268.9,178.7 L265.7,180.6M268.9,178.7 L271.7,179.4 L273.6,181.6M273.6,181.6 L273.2,185.2M273.2,185.2 L269.6,187.5M269.4,188.0 L269.6,187.5M270.1,160.9 L271.8,156.7M271.8,156.7 L269.3,154.4M264.6,157.6 L266.3,161.9M267.4,150.5 L269.3,154.4M262.0,154.5 L262.2,155.5M262.2,155.5 L264.6,157.6M257.6,161.8 L257.8,162.4M257.6,161.8 L258.9,159.5 L261.5,158.2 L262.2,155.5M273.0,169.2 L273.5,173.8M273.5,173.8 L269.5,176.6M267.5,170.0 L268.0,174.7M266.0,164.3 L267.9,166.3 L268.5,169.1M274.9,166.9 L273.0,169.2M275.0,174.9 L273.5,173.8M261.8,174.0 L265.0,173.8 L268.0,174.7M252.4,154.5 L252.5,157.6M252.4,154.5 L254.4,151.5M252.1,157.8 L252.5,157.6M249.0,148.0 L251.2,150.6 L254.4,151.5M257.0,148.0 L256.6,149.8M248.0,188.4 L250.5,189.4 L252.2,191.6 L254.9,192.1M252.9,195.0 L254.6,193.6M254.6,193.6 L254.9,192.1M256.5,188.2 L254.9,192.1M258.3,195.7 L254.6,193.6M250.7,198.6 L252.9,195.0M250.7,198.6 L248.0,198.1M285.0,145.8 L281.7,146.8 L278.4,145.9M281.7,125.5 L283.8,122.3 L284.2,118.5M284.0,85.0 L284.1,85.7M244.6,102.0 L244.5,101.8M244.6,102.0 L243.3,104.7 L241.6,107.2 L239.3,109.2M239.3,109.2 L235.0,108.8M235.0,95.8 L237.1,97.8 L239.2,99.7 L241.6,101.2 L244.5,101.8M239.3,109.2 L238.5,112.2 L237.9,115.3 L237.5,118.3 L238.3,121.5M278.4,145.9 L275.5,144.0M275.3,143.2 L275.5,144.0M253.4,85.0 L251.0,87.0 L249.2,89.8 L246.4,91.4M246.4,91.4 L245.5,88.8 L243.2,87.3 L241.8,85.0M246.8,102.5 L244.6,102.0M252.9,122.8 L253.3,125.6 L253.0,128.4 L254.0,131.2 L254.1,134.1 L253.1,136.9M253.1,136.9 L255.1,135.2 L257.8,134.6 L260.2,133.7 L262.7,132.9 L264.9,131.4 L267.3,130.4 L269.1,128.3M238.6,121.8 L241.4,122.3 L244.3,122.7 L247.1,122.6 L250.1,121.7 L252.9,122.8M267.4,112.9 L270.1,112.8 L272.0,115.0 L274.8,114.7 L276.8,116.7 L279.5,116.8 L282.2,116.7 L284.2,118.5M267.4,112.9 L265.2,115.7 L263.3,118.7M235.0,147.0 L236.7,146.4M284.1,85.7 L282.0,87.1 L280.2,89.2 L277.5,89.7M258.4,99.3 L261.8,100.0 L264.9,101.6M253.7,141.8 L251.7,144.1 L249.4,146.0 L246.6,147.3 L244.7,149.6M271.0,138.8 L268.5,140.2 L265.7,140.2 L263.0,140.4 L260.1,140.3 L257.8,142.7 L255.0,142.4M275.5,144.0 L274.7,146.6 L273.0,148.4 L270.9,150.0M252.9,137.6 L253.7,141.8M203.0,292.2 L205.8,291.0 L208.7,290.2 L211.8,290.3M203.1,301.9 L200.0,303.2 L196.9,303.3 L193.6,303.0M193.6,303.0 L190.5,301.5 L188.1,299.1M198.1,287.1 L199.0,283.5 L200.1,280.0M178.3,280.5 L178.6,280.0M184.5,288.8 L183.1,285.5 L181.2,282.6M203.1,301.9 L204.5,304.2 L206.0,306.6 L207.3,309.0 L207.6,311.8M193.0,310.8 L196.0,310.5 L198.9,310.5 L201.8,311.4 L204.6,312.4 L207.6,311.8M216.9,285.2 L219.3,286.9 L222.3,287.2 L225.0,288.2 L227.1,290.5M215.3,298.4 L216.6,299.3M232.0,287.3 L234.9,286.3 L237.8,287.3M229.6,322.8 L228.3,323.6M216.9,328.4 L213.9,330.1 L210.8,331.5M210.8,331.5 L208.6,330.1 L207.0,327.8 L204.1,327.1 L202.3,325.2 L200.9,322.7 L198.6,321.4M210.5,313.7 L208.8,313.2M219.4,334.4 L218.3,331.3 L216.9,328.4M228.3,323.6 L225.6,324.3 L222.7,324.3 L220.5,326.7 L217.6,326.6M215.4,309.5 L215.0,306.9 L216.1,304.4 L216.4,301.8 L216.6,299.3M215.4,309.5 L212.3,310.8 L210.5,313.7M228.4,308.0 L229.0,304.7 L227.7,301.8 L227.6,298.6 L226.6,295.6M233.4,311.9 L236.0,311.5 L238.1,309.6 L240.8,309.6M240.8,309.6 L243.5,307.1M243.7,304.6 L243.0,303.3M215.4,309.5 L218.0,309.4 L220.5,308.5 L223.2,308.3 L225.7,307.5 L228.4,308.0M226.2,294.5 L226.6,295.6M229.6,322.8 L229.6,319.7 L232.3,317.6 L232.9,314.8 L233.4,311.9M246.7,325.0 L246.2,322.2 L244.3,320.0 L243.6,317.3 L242.1,315.0 L242.0,312.1 L240.8,309.6M250.0,309.3 L247.0,307.5 L243.5,307.1M182.9,328.4 L180.5,325.9 L177.4,324.4M177.4,324.4 L177.4,324.3M188.4,315.7 L189.9,318.1 L192.8,318.6 L194.2,321.0 L196.5,322.3M179.9,315.5 L177.2,317.5M176.2,317.0 L177.2,317.5M181.7,305.4 L182.1,308.1 L180.7,310.4 L181.2,313.1 L179.9,315.5M339.3,317.2 L340.1,320.3M339.3,317.2 L336.4,315.9M341.9,299.3 L344.8,301.5 L347.8,303.7M358.5,251.3 L359.2,248.9M352.0,289.3 L349.4,287.9 L346.5,286.9 L344.1,285.2M336.7,294.6 L338.3,296.6 L339.4,298.9M344.1,285.2 L341.7,286.2 L339.9,288.1 L337.7,289.5M352.3,289.3 L352.0,289.3M354.5,255.7 L354.6,259.3 L354.3,262.9M335.1,278.7 L337.8,276.9 L340.8,276.4 L343.9,275.9" fill="none" stroke="#8a72cc" stroke-width="1.05" stroke-linejoin="round"/>
<polyline points="298,124 303,95 304.5,80 301,68" fill="none" stroke="#8a72cc" stroke-width="1.1"/><polyline points="298,124 283,110 274,95 268,80" fill="none" stroke="#8a72cc" stroke-width="1.1"/><polyline points="298,124 280,128 268,125" fill="none" stroke="#8a72cc" stroke-width="1.1"/><polyline points="298,124 285,140 286,150" fill="none" stroke="#8a72cc" stroke-width="1.1"/><polyline points="298,124 304,140 307,152" fill="none" stroke="#8a72cc" stroke-width="1.1"/><polyline points="298,124 316,125 328,122" fill="none" stroke="#8a72cc" stroke-width="1.1"/><polyline points="298,124 290,105 292,88" fill="none" stroke="#8a72cc" stroke-width="1.1"/><polyline points="303,95 312,100" fill="none" stroke="#8a72cc" stroke-width="1.1"/>
<g filter="url(#fGB)"><use href="#dWB"/></g>
<g filter="url(#fG)"><use href="#dGB"/></g>
<path d="M225.7,64.2 L229.2,64 L229.2,52 L257.5,52 L257.5,89 L225.7,89 Z" fill="#d8d5dc"/>
<path d="M141,58 L148.3,53.2 L154.3,49.4 L158.8,45.6 L163.4,44 L168,44.8 L172.5,46.3 L175.5,47.1 L178.5,46.3 L181.5,45.6 L186,46.3 L190.6,47.9 L192,52 L190,60 L186,66 L187,74 L185,80 L181.5,85 L169.4,86.4 L161.9,80.4 L152.8,75.8 L146,68 Z" fill="#d8d5dc"/>
<path d="M60,52 L66,40 L78,38 L86,46 L86,62 L84,77 L72,78 L62,72 L58,62 Z" fill="#d8d5dc"/>
<path d="M166.4,51.6 L167.5,60 L168,66 L169.4,77.4 L170.2,85M154.3,50 L158,53 L163.4,56.2M171,62.2 L174,62.5 L177,63.7M154.3,75.8 L157,73 L160.4,70.5M181.5,47.1 L182,55 L183,62.2 L186,66 L189,68.3M183,69.8 L184,74 L184.6,77.4" fill="none" stroke="#8ebff2" stroke-width="1.3" stroke-linejoin="round"/>
<path d="M57,151.6 L56.7,119.6 L66,118 L72,122.7 L84,122.7 L85.8,116.6 L97.8,115 L102.4,114.5 L102.4,145.3 L93.3,148.3 L84,150.6 L70.7,150 L67.4,150.7 Z" fill="#d8d5dc"/>
<path d="M281.3,152.4 L286.2,149.9 L292.7,151.5 L299.3,154.8 L305.8,158.9 L312.4,157.3 L317.3,155.6 L320.6,156.5 L318.8,160 L318.6,175 L318.8,186.5 L321.1,187.2 L317.1,191.2 L314.1,195.3 L311.5,200 L310.5,201.5 L304.2,194.1 L296,189.2 L289.5,185.9 L283,184.3 L276.4,185.1 L271.5,186.7 L269.8,184.3 L272.3,181 L278,177.7 L283,173.6 L284.5,169.5 L283,161.4 Z" fill="#d8d5dc"/>
<path d="M185.1,342.2 L187.1,345.2 L195,345.6 L203,345 L205,340 L208,329.5 L216.6,326.5 L224.2,326.5 L231.7,322.7 L238,317.7 L243,313 L250.6,309 L259.4,306.4 L260.7,307.6 L263,330 L262.5,333 L261,340 L257.5,345.7 L253,351.3 L248.5,357 L243.9,361.5 L238.3,366 L232.6,370.6 L227,372.9 L221.3,374 L216.7,374.6 L211,375.1 L205.4,376.3 L200.3,378.5 L198.6,377.4 L195.2,375.1 L193.5,371.7 L192.6,368.3 L193,362.7 L191.5,359 L189.5,355 L188.1,349.3 Z" fill="#d8d5dc"/>
<path d="M320.5,104 L324,105 L327.5,113 L326,116 L321,113 Z" fill="#d8d5dc"/>
<path d="M165.2,262 L164,273 L164,283 L165.5,290 L167.5,296 L170.5,303 L174.4,311.7 L176,315 L176.5,321 L177.6,327 L179.6,333 L182,338.2 L185.1,342.2 L188,342 L184.5,336 L182,328 L181,318 L178,309 L174.5,299 L171,289 L169.5,280 L169,271 L168,262 Z" fill="#d8d5dc"/>
<path d="M126,143 L132,141 L138,144 L138,151 L132,153 L127,151 Z" fill="#d8d5dc"/>
<path d="M236.4,348.6 L238.6,344.8 L242.4,343.3 L246.2,344.8 L247,347.9 L244.7,351.7 L241.7,354 L238.6,355.5 L236.4,353.2 L234.8,350.2 Z" fill="#8ebff2"/>
<path d="M236,346 l2,1 l1,3 M242,347 l1,3 l-2,2" fill="none" stroke="#8a72cc" stroke-width="0.9"/>
<path d="M257,328 L262,327 L263,334 L258,336 Z" fill="#fff"/>
<ellipse cx="249.5" cy="122" rx="3.8" ry="2.3" fill="#fff"/>
</g></g>
<rect x="378.7" y="26.7" width="17.8" height="361" fill="url(#plasma)" stroke="#3c3c5a" stroke-width="1"/>
<line x1="396.6" y1="27.0" x2="399.6" y2="27.0" stroke="#333" stroke-width="1"/>
<text x="400.7" y="31.8" font-size="13.8" fill="#000">80,000</text>
<line x1="396.6" y1="72.1" x2="399.6" y2="72.1" stroke="#333" stroke-width="1"/>
<text x="400.7" y="76.9" font-size="13.8" fill="#000">70,000</text>
<line x1="396.6" y1="117.2" x2="399.6" y2="117.2" stroke="#333" stroke-width="1"/>
<text x="400.7" y="122.0" font-size="13.8" fill="#000">60,000</text>
<line x1="396.6" y1="162.3" x2="399.6" y2="162.3" stroke="#333" stroke-width="1"/>
<text x="400.7" y="167.1" font-size="13.8" fill="#000">50,000</text>
<line x1="396.6" y1="207.4" x2="399.6" y2="207.4" stroke="#333" stroke-width="1"/>
<text x="400.7" y="212.2" font-size="13.8" fill="#000">40,000</text>
<line x1="396.6" y1="252.5" x2="399.6" y2="252.5" stroke="#333" stroke-width="1"/>
<text x="400.7" y="257.3" font-size="13.8" fill="#000">30,000</text>
<line x1="396.6" y1="297.6" x2="399.6" y2="297.6" stroke="#333" stroke-width="1"/>
<text x="400.7" y="302.4" font-size="13.8" fill="#000">20,000</text>
<line x1="396.6" y1="342.7" x2="399.6" y2="342.7" stroke="#333" stroke-width="1"/>
<text x="400.7" y="347.5" font-size="13.8" fill="#000">10,000</text>
<line x1="396.6" y1="387.8" x2="399.6" y2="387.8" stroke="#333" stroke-width="1"/>
<text x="400.7" y="392.6" font-size="13.8" fill="#000">0</text>
<text x="6.9" y="18.3" font-size="18.2" font-weight="bold">A.</text>
<text x="455.5" y="18.3" font-size="18.2" font-weight="bold">B.</text>
<rect x="492.5" y="215.2" width="42" height="23.8" fill="#8ebff2"/>
<rect x="492.5" y="241.2" width="42" height="23.8" fill="#f4939b"/>
<rect x="492.5" y="266.8" width="42" height="23.8" fill="#9480d0"/>
<text x="537.8" y="232.6" font-size="14.4">PV</text>
<text x="537.8" y="258.4" font-size="14.4">Diesel</text>
<text x="537.8" y="284.4" font-size="14.4">Grid</text>
</svg></body></html>
